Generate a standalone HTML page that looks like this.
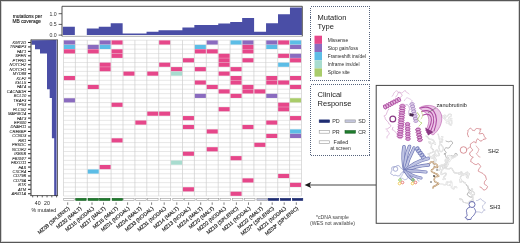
<!DOCTYPE html><html><head><meta charset="utf-8"><style>html,body{margin:0;padding:0;background:#fff;}svg{display:block;will-change:transform;}text{font-family:"Liberation Sans",sans-serif;}</style></head><body>
<svg width="520" height="243" viewBox="0 0 520 243" xmlns="http://www.w3.org/2000/svg">
<rect x="0" y="0" width="520" height="243" fill="#fff"/>
<path d="M62.9,35.1 L62.90,26.70 L74.85,26.70 L74.85,35.10 L86.80,35.10 L86.80,28.60 L98.75,28.60 L98.75,26.70 L110.70,26.70 L110.70,23.20 L122.65,23.20 L122.65,33.40 L134.60,33.40 L134.60,33.40 L146.55,33.40 L146.55,31.70 L158.50,31.70 L158.50,30.30 L170.45,30.30 L170.45,30.30 L182.40,30.30 L182.40,27.40 L194.35,27.40 L194.35,25.10 L206.30,25.10 L206.30,25.10 L218.25,25.10 L218.25,23.40 L230.20,23.40 L230.20,22.00 L242.15,22.00 L242.15,17.90 L254.10,17.90 L254.10,31.70 L266.05,31.70 L266.05,23.20 L278.00,23.20 L278.00,14.30 L289.95,14.30 L289.95,7.60 L301.90,7.60 L301.90,35.1 Z" fill="#4a4ea6"/>
<path d="M62,36.3 L62,6.3 L302.3,6.3 L302.3,36.3" fill="none" stroke="#333" stroke-width="0.85"/>
<line x1="62" y1="36.3" x2="302.3" y2="36.3" stroke="#8a8a8a" stroke-width="0.7"/>
<line x1="58.6" y1="13.7" x2="62" y2="13.7" stroke="#333" stroke-width="0.8"/>
<text x="56.6" y="15.50" font-size="5.2" text-anchor="end" fill="#333">1.0</text>
<line x1="58.6" y1="24.4" x2="62" y2="24.4" stroke="#333" stroke-width="0.8"/>
<text x="56.6" y="26.20" font-size="5.2" text-anchor="end" fill="#333">0.5</text>
<line x1="58.6" y1="35.1" x2="62" y2="35.1" stroke="#333" stroke-width="0.8"/>
<text x="56.6" y="36.90" font-size="5.2" text-anchor="end" fill="#333">0.0</text>
<text x="27.4" y="17.6" font-size="4.85" text-anchor="middle" fill="#222" stroke="#222" stroke-width="0.12">mutations per</text>
<text x="26.8" y="23.2" font-size="4.85" text-anchor="middle" fill="#222" stroke="#222" stroke-width="0.12">MB coverage</text>
<rect x="63.5" y="40.25" width="238.00" height="155.75" fill="#fff"/>
<line x1="63.5" y1="40.25" x2="301.50" y2="40.25" stroke="#dcdcdc" stroke-width="0.7"/>
<line x1="63.5" y1="44.70" x2="301.50" y2="44.70" stroke="#dcdcdc" stroke-width="0.7"/>
<line x1="63.5" y1="49.15" x2="301.50" y2="49.15" stroke="#dcdcdc" stroke-width="0.7"/>
<line x1="63.5" y1="53.60" x2="301.50" y2="53.60" stroke="#dcdcdc" stroke-width="0.7"/>
<line x1="63.5" y1="58.05" x2="301.50" y2="58.05" stroke="#dcdcdc" stroke-width="0.7"/>
<line x1="63.5" y1="62.50" x2="301.50" y2="62.50" stroke="#dcdcdc" stroke-width="0.7"/>
<line x1="63.5" y1="66.95" x2="301.50" y2="66.95" stroke="#dcdcdc" stroke-width="0.7"/>
<line x1="63.5" y1="71.40" x2="301.50" y2="71.40" stroke="#dcdcdc" stroke-width="0.7"/>
<line x1="63.5" y1="75.85" x2="301.50" y2="75.85" stroke="#dcdcdc" stroke-width="0.7"/>
<line x1="63.5" y1="80.30" x2="301.50" y2="80.30" stroke="#dcdcdc" stroke-width="0.7"/>
<line x1="63.5" y1="84.75" x2="301.50" y2="84.75" stroke="#dcdcdc" stroke-width="0.7"/>
<line x1="63.5" y1="89.20" x2="301.50" y2="89.20" stroke="#dcdcdc" stroke-width="0.7"/>
<line x1="63.5" y1="93.65" x2="301.50" y2="93.65" stroke="#dcdcdc" stroke-width="0.7"/>
<line x1="63.5" y1="98.10" x2="301.50" y2="98.10" stroke="#dcdcdc" stroke-width="0.7"/>
<line x1="63.5" y1="102.55" x2="301.50" y2="102.55" stroke="#dcdcdc" stroke-width="0.7"/>
<line x1="63.5" y1="107.00" x2="301.50" y2="107.00" stroke="#dcdcdc" stroke-width="0.7"/>
<line x1="63.5" y1="111.45" x2="301.50" y2="111.45" stroke="#dcdcdc" stroke-width="0.7"/>
<line x1="63.5" y1="115.90" x2="301.50" y2="115.90" stroke="#dcdcdc" stroke-width="0.7"/>
<line x1="63.5" y1="120.35" x2="301.50" y2="120.35" stroke="#dcdcdc" stroke-width="0.7"/>
<line x1="63.5" y1="124.80" x2="301.50" y2="124.80" stroke="#dcdcdc" stroke-width="0.7"/>
<line x1="63.5" y1="129.25" x2="301.50" y2="129.25" stroke="#dcdcdc" stroke-width="0.7"/>
<line x1="63.5" y1="133.70" x2="301.50" y2="133.70" stroke="#dcdcdc" stroke-width="0.7"/>
<line x1="63.5" y1="138.15" x2="301.50" y2="138.15" stroke="#dcdcdc" stroke-width="0.7"/>
<line x1="63.5" y1="142.60" x2="301.50" y2="142.60" stroke="#dcdcdc" stroke-width="0.7"/>
<line x1="63.5" y1="147.05" x2="301.50" y2="147.05" stroke="#dcdcdc" stroke-width="0.7"/>
<line x1="63.5" y1="151.50" x2="301.50" y2="151.50" stroke="#dcdcdc" stroke-width="0.7"/>
<line x1="63.5" y1="155.95" x2="301.50" y2="155.95" stroke="#dcdcdc" stroke-width="0.7"/>
<line x1="63.5" y1="160.40" x2="301.50" y2="160.40" stroke="#dcdcdc" stroke-width="0.7"/>
<line x1="63.5" y1="164.85" x2="301.50" y2="164.85" stroke="#dcdcdc" stroke-width="0.7"/>
<line x1="63.5" y1="169.30" x2="301.50" y2="169.30" stroke="#dcdcdc" stroke-width="0.7"/>
<line x1="63.5" y1="173.75" x2="301.50" y2="173.75" stroke="#dcdcdc" stroke-width="0.7"/>
<line x1="63.5" y1="178.20" x2="301.50" y2="178.20" stroke="#dcdcdc" stroke-width="0.7"/>
<line x1="63.5" y1="182.65" x2="301.50" y2="182.65" stroke="#dcdcdc" stroke-width="0.7"/>
<line x1="63.5" y1="187.10" x2="301.50" y2="187.10" stroke="#dcdcdc" stroke-width="0.7"/>
<line x1="63.5" y1="191.55" x2="301.50" y2="191.55" stroke="#dcdcdc" stroke-width="0.7"/>
<line x1="63.5" y1="196.00" x2="301.50" y2="196.00" stroke="#dcdcdc" stroke-width="0.7"/>
<line x1="63.50" y1="40.25" x2="63.50" y2="196.00" stroke="#cfcfcf" stroke-width="0.7"/>
<line x1="75.40" y1="40.25" x2="75.40" y2="196.00" stroke="#cfcfcf" stroke-width="0.7"/>
<line x1="87.30" y1="40.25" x2="87.30" y2="196.00" stroke="#cfcfcf" stroke-width="0.7"/>
<line x1="99.20" y1="40.25" x2="99.20" y2="196.00" stroke="#cfcfcf" stroke-width="0.7"/>
<line x1="111.10" y1="40.25" x2="111.10" y2="196.00" stroke="#cfcfcf" stroke-width="0.7"/>
<line x1="123.00" y1="40.25" x2="123.00" y2="196.00" stroke="#cfcfcf" stroke-width="0.7"/>
<line x1="134.90" y1="40.25" x2="134.90" y2="196.00" stroke="#cfcfcf" stroke-width="0.7"/>
<line x1="146.80" y1="40.25" x2="146.80" y2="196.00" stroke="#cfcfcf" stroke-width="0.7"/>
<line x1="158.70" y1="40.25" x2="158.70" y2="196.00" stroke="#cfcfcf" stroke-width="0.7"/>
<line x1="170.60" y1="40.25" x2="170.60" y2="196.00" stroke="#cfcfcf" stroke-width="0.7"/>
<line x1="182.50" y1="40.25" x2="182.50" y2="196.00" stroke="#cfcfcf" stroke-width="0.7"/>
<line x1="194.40" y1="40.25" x2="194.40" y2="196.00" stroke="#cfcfcf" stroke-width="0.7"/>
<line x1="206.30" y1="40.25" x2="206.30" y2="196.00" stroke="#cfcfcf" stroke-width="0.7"/>
<line x1="218.20" y1="40.25" x2="218.20" y2="196.00" stroke="#cfcfcf" stroke-width="0.7"/>
<line x1="230.10" y1="40.25" x2="230.10" y2="196.00" stroke="#cfcfcf" stroke-width="0.7"/>
<line x1="242.00" y1="40.25" x2="242.00" y2="196.00" stroke="#cfcfcf" stroke-width="0.7"/>
<line x1="253.90" y1="40.25" x2="253.90" y2="196.00" stroke="#cfcfcf" stroke-width="0.7"/>
<line x1="265.80" y1="40.25" x2="265.80" y2="196.00" stroke="#cfcfcf" stroke-width="0.7"/>
<line x1="277.70" y1="40.25" x2="277.70" y2="196.00" stroke="#cfcfcf" stroke-width="0.7"/>
<line x1="289.60" y1="40.25" x2="289.60" y2="196.00" stroke="#cfcfcf" stroke-width="0.7"/>
<line x1="301.50" y1="40.25" x2="301.50" y2="196.00" stroke="#cfcfcf" stroke-width="0.7"/>
<rect x="63.95" y="40.40" width="11.00" height="4.15" fill="#8a6bbf"/>
<rect x="99.65" y="40.40" width="11.00" height="4.15" fill="#8a6bbf"/>
<rect x="111.55" y="40.40" width="11.00" height="4.15" fill="#e6478a"/>
<rect x="159.15" y="40.40" width="11.00" height="4.15" fill="#e6478a"/>
<rect x="206.75" y="40.40" width="11.00" height="4.15" fill="#8a6bbf"/>
<rect x="230.55" y="40.40" width="11.00" height="4.15" fill="#5cbde6"/>
<rect x="242.45" y="40.40" width="11.00" height="4.15" fill="#8a6bbf"/>
<rect x="266.25" y="40.40" width="11.00" height="4.15" fill="#8a6bbf"/>
<rect x="278.15" y="40.40" width="11.00" height="4.15" fill="#e6478a"/>
<rect x="290.05" y="40.40" width="11.00" height="4.15" fill="#5cbde6"/>
<rect x="63.95" y="44.85" width="11.00" height="4.15" fill="#5cbde6"/>
<rect x="87.75" y="44.85" width="11.00" height="4.15" fill="#8a6bbf"/>
<rect x="99.65" y="44.85" width="11.00" height="4.15" fill="#5cbde6"/>
<rect x="194.85" y="44.85" width="11.00" height="4.15" fill="#5cbde6"/>
<rect x="242.45" y="44.85" width="11.00" height="4.15" fill="#e6478a"/>
<rect x="266.25" y="44.85" width="11.00" height="4.15" fill="#5cbde6"/>
<rect x="290.05" y="44.85" width="11.00" height="4.15" fill="#8a6bbf"/>
<rect x="63.95" y="49.30" width="11.00" height="4.15" fill="#e6478a"/>
<rect x="87.75" y="49.30" width="11.00" height="4.15" fill="#e6478a"/>
<rect x="111.55" y="49.30" width="11.00" height="4.15" fill="#e6478a"/>
<rect x="194.85" y="49.30" width="11.00" height="4.15" fill="#e6478a"/>
<rect x="206.75" y="49.30" width="11.00" height="4.15" fill="#e6478a"/>
<rect x="242.45" y="49.30" width="11.00" height="4.15" fill="#e6478a"/>
<rect x="111.55" y="53.75" width="11.00" height="4.15" fill="#e6478a"/>
<rect x="218.65" y="53.75" width="11.00" height="4.15" fill="#e6478a"/>
<rect x="278.15" y="53.75" width="11.00" height="4.15" fill="#e6478a"/>
<rect x="290.05" y="53.75" width="11.00" height="4.15" fill="#8a6bbf"/>
<rect x="182.95" y="58.20" width="11.00" height="4.15" fill="#e6478a"/>
<rect x="218.65" y="58.20" width="11.00" height="4.15" fill="#e6478a"/>
<rect x="242.45" y="58.20" width="11.00" height="4.15" fill="#e6478a"/>
<rect x="290.05" y="58.20" width="11.00" height="4.15" fill="#e6478a"/>
<rect x="99.65" y="62.65" width="11.00" height="4.15" fill="#e6478a"/>
<rect x="159.15" y="62.65" width="11.00" height="4.15" fill="#e6478a"/>
<rect x="218.65" y="62.65" width="11.00" height="4.15" fill="#e6478a"/>
<rect x="278.15" y="62.65" width="11.00" height="4.15" fill="#5cbde6"/>
<rect x="99.65" y="67.10" width="11.00" height="4.15" fill="#e6478a"/>
<rect x="171.05" y="67.10" width="11.00" height="4.15" fill="#e6478a"/>
<rect x="194.85" y="67.10" width="11.00" height="4.15" fill="#e6478a"/>
<rect x="230.55" y="67.10" width="11.00" height="4.15" fill="#e6478a"/>
<rect x="123.45" y="71.55" width="11.00" height="4.15" fill="#e6478a"/>
<rect x="147.25" y="71.55" width="11.00" height="4.15" fill="#e6478a"/>
<rect x="171.05" y="71.55" width="11.00" height="4.15" fill="#a8dccf"/>
<rect x="218.65" y="71.55" width="11.00" height="4.15" fill="#e6478a"/>
<rect x="63.95" y="76.00" width="11.00" height="4.15" fill="#e6478a"/>
<rect x="230.55" y="76.00" width="11.00" height="4.15" fill="#e6478a"/>
<rect x="266.25" y="76.00" width="11.00" height="4.15" fill="#e6478a"/>
<rect x="290.05" y="76.00" width="11.00" height="4.15" fill="#e6478a"/>
<rect x="194.85" y="80.45" width="11.00" height="4.15" fill="#e6478a"/>
<rect x="230.55" y="80.45" width="11.00" height="4.15" fill="#e6478a"/>
<rect x="266.25" y="80.45" width="11.00" height="4.15" fill="#e6478a"/>
<rect x="278.15" y="80.45" width="11.00" height="4.15" fill="#e6478a"/>
<rect x="87.75" y="84.90" width="11.00" height="4.15" fill="#e6478a"/>
<rect x="206.75" y="84.90" width="11.00" height="4.15" fill="#e6478a"/>
<rect x="242.45" y="84.90" width="11.00" height="4.15" fill="#e6478a"/>
<rect x="290.05" y="84.90" width="11.00" height="4.15" fill="#e6478a"/>
<rect x="218.65" y="89.35" width="11.00" height="4.15" fill="#e6478a"/>
<rect x="242.45" y="89.35" width="11.00" height="4.15" fill="#e6478a"/>
<rect x="254.35" y="89.35" width="11.00" height="4.15" fill="#e6478a"/>
<rect x="194.85" y="93.80" width="11.00" height="4.15" fill="#8a6bbf"/>
<rect x="230.55" y="93.80" width="11.00" height="4.15" fill="#e6478a"/>
<rect x="266.25" y="93.80" width="11.00" height="4.15" fill="#8a6bbf"/>
<rect x="63.95" y="98.25" width="11.00" height="4.15" fill="#8a6bbf"/>
<rect x="290.05" y="98.25" width="11.00" height="4.15" fill="#a9cc6a"/>
<rect x="111.55" y="102.70" width="11.00" height="4.15" fill="#e6478a"/>
<rect x="278.15" y="102.70" width="11.00" height="4.15" fill="#e6478a"/>
<rect x="218.65" y="107.15" width="11.00" height="4.15" fill="#e6478a"/>
<rect x="278.15" y="107.15" width="11.00" height="4.15" fill="#e6478a"/>
<rect x="147.25" y="111.60" width="11.00" height="4.15" fill="#e6478a"/>
<rect x="159.15" y="111.60" width="11.00" height="4.15" fill="#e6478a"/>
<rect x="182.95" y="116.05" width="11.00" height="4.15" fill="#e6478a"/>
<rect x="290.05" y="116.05" width="11.00" height="4.15" fill="#e6478a"/>
<rect x="135.35" y="120.50" width="11.00" height="4.15" fill="#e6478a"/>
<rect x="266.25" y="120.50" width="11.00" height="4.15" fill="#e6478a"/>
<rect x="182.95" y="124.95" width="11.00" height="4.15" fill="#e6478a"/>
<rect x="242.45" y="124.95" width="11.00" height="4.15" fill="#e6478a"/>
<rect x="206.75" y="129.40" width="11.00" height="4.15" fill="#e6478a"/>
<rect x="290.05" y="129.40" width="11.00" height="4.15" fill="#5cbde6"/>
<rect x="266.25" y="133.85" width="11.00" height="4.15" fill="#e6478a"/>
<rect x="290.05" y="133.85" width="11.00" height="4.15" fill="#8a6bbf"/>
<rect x="111.55" y="138.30" width="11.00" height="4.15" fill="#e6478a"/>
<rect x="254.35" y="142.75" width="11.00" height="4.15" fill="#e6478a"/>
<rect x="206.75" y="147.20" width="11.00" height="4.15" fill="#e6478a"/>
<rect x="182.95" y="151.65" width="11.00" height="4.15" fill="#e6478a"/>
<rect x="230.55" y="156.10" width="11.00" height="4.15" fill="#e6478a"/>
<rect x="171.05" y="160.55" width="11.00" height="4.15" fill="#a8dccf"/>
<rect x="99.65" y="165.00" width="11.00" height="4.15" fill="#e6478a"/>
<rect x="87.75" y="169.45" width="11.00" height="4.15" fill="#5cbde6"/>
<rect x="278.15" y="173.90" width="11.00" height="4.15" fill="#e6478a"/>
<rect x="242.45" y="178.35" width="11.00" height="4.15" fill="#e6478a"/>
<rect x="290.05" y="182.80" width="11.00" height="4.15" fill="#e6478a"/>
<rect x="182.95" y="187.25" width="11.00" height="4.15" fill="#e6478a"/>
<rect x="230.55" y="191.70" width="11.00" height="4.15" fill="#e6478a"/>
<rect x="63.70" y="198.3" width="10.5" height="2.2" fill="#fff" stroke="#999" stroke-width="0.6"/>
<rect x="75.70" y="198.3" width="10.5" height="2.2" fill="#1f7d2e" stroke="#145c20" stroke-width="0.6"/>
<rect x="88.00" y="198.3" width="10.5" height="2.2" fill="#1f7d2e" stroke="#145c20" stroke-width="0.6"/>
<rect x="99.50" y="198.3" width="10.5" height="2.2" fill="#1f7d2e" stroke="#145c20" stroke-width="0.6"/>
<rect x="112.10" y="198.3" width="10.5" height="2.2" fill="#1f7d2e" stroke="#145c20" stroke-width="0.6"/>
<rect x="123.60" y="198.3" width="10.5" height="2.2" fill="#fff" stroke="#999" stroke-width="0.6"/>
<rect x="135.70" y="198.3" width="10.5" height="2.2" fill="#fff" stroke="#999" stroke-width="0.6"/>
<rect x="147.60" y="198.3" width="10.5" height="2.2" fill="#fff" stroke="#999" stroke-width="0.6"/>
<rect x="160.20" y="198.3" width="10.5" height="2.2" fill="#fff" stroke="#999" stroke-width="0.6"/>
<rect x="172.80" y="198.3" width="10.5" height="2.2" fill="#fff" stroke="#999" stroke-width="0.6"/>
<rect x="184.60" y="198.3" width="10.5" height="2.2" fill="#fff" stroke="#999" stroke-width="0.6"/>
<rect x="196.70" y="198.3" width="10.5" height="2.2" fill="#fff" stroke="#999" stroke-width="0.6"/>
<rect x="208.20" y="198.3" width="10.5" height="2.2" fill="#fff" stroke="#999" stroke-width="0.6"/>
<rect x="220.00" y="198.3" width="10.5" height="2.2" fill="#fff" stroke="#999" stroke-width="0.6"/>
<rect x="232.40" y="198.3" width="10.5" height="2.2" fill="#fff" stroke="#999" stroke-width="0.6"/>
<rect x="244.50" y="198.3" width="10.5" height="2.2" fill="#fff" stroke="#999" stroke-width="0.6"/>
<rect x="256.90" y="198.3" width="10.5" height="2.2" fill="#c3c6de" stroke="#999" stroke-width="0.6"/>
<rect x="268.20" y="198.3" width="10.5" height="2.2" fill="#1f2d72" stroke="#1f2d72" stroke-width="0.6"/>
<rect x="280.20" y="198.3" width="10.5" height="2.2" fill="#1f2d72" stroke="#1f2d72" stroke-width="0.6"/>
<rect x="292.30" y="198.3" width="10.5" height="2.2" fill="#1f2d72" stroke="#1f2d72" stroke-width="0.6"/>
<line x1="67.70" y1="202.4" x2="67.70" y2="204.8" stroke="#444" stroke-width="0.7"/>
<text transform="translate(69.90,209.0) rotate(-40)" font-size="5.1" text-anchor="end" fill="#2a2a2a" stroke="#2a2a2a" stroke-width="0.18">MZ08 (SPLENIC)</text>
<line x1="79.70" y1="202.4" x2="79.70" y2="204.8" stroke="#444" stroke-width="0.7"/>
<text transform="translate(81.90,209.0) rotate(-40)" font-size="5.1" text-anchor="end" fill="#2a2a2a" stroke="#2a2a2a" stroke-width="0.18">MZ32 (MALT)</text>
<line x1="92.00" y1="202.4" x2="92.00" y2="204.8" stroke="#444" stroke-width="0.7"/>
<text transform="translate(94.20,209.0) rotate(-40)" font-size="5.1" text-anchor="end" fill="#2a2a2a" stroke="#2a2a2a" stroke-width="0.18">MZ16 (NODAL)</text>
<line x1="103.50" y1="202.4" x2="103.50" y2="204.8" stroke="#444" stroke-width="0.7"/>
<text transform="translate(105.70,209.0) rotate(-40)" font-size="5.1" text-anchor="end" fill="#2a2a2a" stroke="#2a2a2a" stroke-width="0.18">MZ17 (MALT)</text>
<line x1="116.10" y1="202.4" x2="116.10" y2="204.8" stroke="#444" stroke-width="0.7"/>
<text transform="translate(118.30,209.0) rotate(-40)" font-size="5.1" text-anchor="end" fill="#2a2a2a" stroke="#2a2a2a" stroke-width="0.18">MZ15 (MALT)</text>
<line x1="127.60" y1="202.4" x2="127.60" y2="204.8" stroke="#444" stroke-width="0.7"/>
<text transform="translate(129.80,209.0) rotate(-40)" font-size="5.1" text-anchor="end" fill="#2a2a2a" stroke="#2a2a2a" stroke-width="0.18">MZ01 (NODAL)</text>
<line x1="139.70" y1="202.4" x2="139.70" y2="204.8" stroke="#444" stroke-width="0.7"/>
<text transform="translate(141.90,209.0) rotate(-40)" font-size="5.1" text-anchor="end" fill="#2a2a2a" stroke="#2a2a2a" stroke-width="0.18">MZ04 (MALT)</text>
<line x1="151.60" y1="202.4" x2="151.60" y2="204.8" stroke="#444" stroke-width="0.7"/>
<text transform="translate(153.80,209.0) rotate(-40)" font-size="5.1" text-anchor="end" fill="#2a2a2a" stroke="#2a2a2a" stroke-width="0.18">MZ33 (NODAL)</text>
<line x1="164.20" y1="202.4" x2="164.20" y2="204.8" stroke="#444" stroke-width="0.7"/>
<text transform="translate(166.40,209.0) rotate(-40)" font-size="5.1" text-anchor="end" fill="#2a2a2a" stroke="#2a2a2a" stroke-width="0.18">MZ31 (NODAL)</text>
<line x1="176.80" y1="202.4" x2="176.80" y2="204.8" stroke="#444" stroke-width="0.7"/>
<text transform="translate(179.00,209.0) rotate(-40)" font-size="5.1" text-anchor="end" fill="#2a2a2a" stroke="#2a2a2a" stroke-width="0.18">MZ14 (MALT)</text>
<line x1="188.60" y1="202.4" x2="188.60" y2="204.8" stroke="#444" stroke-width="0.7"/>
<text transform="translate(190.80,209.0) rotate(-40)" font-size="5.1" text-anchor="end" fill="#2a2a2a" stroke="#2a2a2a" stroke-width="0.18">MZ13 (NODAL)</text>
<line x1="200.70" y1="202.4" x2="200.70" y2="204.8" stroke="#444" stroke-width="0.7"/>
<text transform="translate(202.90,209.0) rotate(-40)" font-size="5.1" text-anchor="end" fill="#2a2a2a" stroke="#2a2a2a" stroke-width="0.18">MZ24 (MALT)</text>
<line x1="212.20" y1="202.4" x2="212.20" y2="204.8" stroke="#444" stroke-width="0.7"/>
<text transform="translate(214.40,209.0) rotate(-40)" font-size="5.1" text-anchor="end" fill="#2a2a2a" stroke="#2a2a2a" stroke-width="0.18">MZ20 (MALT)</text>
<line x1="224.00" y1="202.4" x2="224.00" y2="204.8" stroke="#444" stroke-width="0.7"/>
<text transform="translate(226.20,209.0) rotate(-40)" font-size="5.1" text-anchor="end" fill="#2a2a2a" stroke="#2a2a2a" stroke-width="0.18">MZ02 (NODAL)</text>
<line x1="236.40" y1="202.4" x2="236.40" y2="204.8" stroke="#444" stroke-width="0.7"/>
<text transform="translate(238.60,209.0) rotate(-40)" font-size="5.1" text-anchor="end" fill="#2a2a2a" stroke="#2a2a2a" stroke-width="0.18">MZ19 (SPLENIC)</text>
<line x1="248.50" y1="202.4" x2="248.50" y2="204.8" stroke="#444" stroke-width="0.7"/>
<text transform="translate(250.70,209.0) rotate(-40)" font-size="5.1" text-anchor="end" fill="#2a2a2a" stroke="#2a2a2a" stroke-width="0.18">MZ11 (NODAL)</text>
<line x1="260.90" y1="202.4" x2="260.90" y2="204.8" stroke="#444" stroke-width="0.7"/>
<text transform="translate(263.10,209.0) rotate(-40)" font-size="5.1" text-anchor="end" fill="#2a2a2a" stroke="#2a2a2a" stroke-width="0.18">MZ22 (MALT)</text>
<line x1="272.20" y1="202.4" x2="272.20" y2="204.8" stroke="#444" stroke-width="0.7"/>
<text transform="translate(274.40,209.0) rotate(-40)" font-size="5.1" text-anchor="end" fill="#2a2a2a" stroke="#2a2a2a" stroke-width="0.18">MZ07* (SPLENIC)</text>
<line x1="284.20" y1="202.4" x2="284.20" y2="204.8" stroke="#444" stroke-width="0.7"/>
<text transform="translate(286.40,209.0) rotate(-40)" font-size="5.1" text-anchor="end" fill="#2a2a2a" stroke="#2a2a2a" stroke-width="0.18">MZ21 (NODAL)</text>
<line x1="296.30" y1="202.4" x2="296.30" y2="204.8" stroke="#444" stroke-width="0.7"/>
<text transform="translate(298.50,209.0) rotate(-40)" font-size="5.1" text-anchor="end" fill="#2a2a2a" stroke="#2a2a2a" stroke-width="0.18">MZ03* (SPLENIC)</text>
<path d="M56.6,40 L31.50,40.25 L31.50,44.70 L35.00,44.70 L35.00,49.15 L40.00,49.15 L40.00,53.60 L47.00,53.60 L47.00,58.05 L47.00,58.05 L47.00,62.50 L47.00,62.50 L47.00,66.95 L47.00,66.95 L47.00,71.40 L47.00,71.40 L47.00,75.85 L47.00,75.85 L47.00,80.30 L47.00,80.30 L47.00,84.75 L47.00,84.75 L47.00,89.20 L49.70,89.20 L49.70,93.65 L49.70,93.65 L49.70,98.10 L51.90,98.10 L51.90,102.55 L51.90,102.55 L51.90,107.00 L51.90,107.00 L51.90,111.45 L51.90,111.45 L51.90,115.90 L51.90,115.90 L51.90,120.35 L51.90,120.35 L51.90,124.80 L51.90,124.80 L51.90,129.25 L51.90,129.25 L51.90,133.70 L51.90,133.70 L51.90,138.15 L54.20,138.15 L54.20,142.60 L54.20,142.60 L54.20,147.05 L54.20,147.05 L54.20,151.50 L54.20,151.50 L54.20,155.95 L54.20,155.95 L54.20,160.40 L54.20,160.40 L54.20,164.85 L54.20,164.85 L54.20,169.30 L54.20,169.30 L54.20,173.75 L54.20,173.75 L54.20,178.20 L54.20,178.20 L54.20,182.65 L54.20,182.65 L54.20,187.10 L54.20,187.10 L54.20,191.55 L54.20,191.55 L54.20,196.00 L56.6,196.00 Z" fill="#4a4ea6"/>
<line x1="31.0" y1="39.6" x2="31.0" y2="195.6" stroke="#222" stroke-width="0.9"/>
<line x1="57.5" y1="39.6" x2="57.5" y2="195.6" stroke="#555" stroke-width="0.9"/>
<line x1="31.0" y1="39.7" x2="57.5" y2="39.7" stroke="#333" stroke-width="0.6"/>
<line x1="30.2" y1="195.6" x2="58.1" y2="195.6" stroke="#333" stroke-width="0.8"/>
<line x1="32.70" y1="195.6" x2="32.70" y2="197.4" stroke="#333" stroke-width="0.8"/>
<line x1="37.48" y1="195.6" x2="37.48" y2="197.4" stroke="#333" stroke-width="0.8"/>
<line x1="42.26" y1="195.6" x2="42.26" y2="197.4" stroke="#333" stroke-width="0.8"/>
<line x1="47.04" y1="195.6" x2="47.04" y2="197.4" stroke="#333" stroke-width="0.8"/>
<line x1="51.82" y1="195.6" x2="51.82" y2="197.4" stroke="#333" stroke-width="0.8"/>
<line x1="56.60" y1="195.6" x2="56.60" y2="197.4" stroke="#333" stroke-width="0.8"/>
<text x="37.7" y="205.2" font-size="5.2" text-anchor="middle" fill="#222">40</text>
<text x="47.0" y="205.2" font-size="5.2" text-anchor="middle" fill="#222">20</text>
<text x="43.9" y="211.6" font-size="5.15" text-anchor="middle" fill="#1a1a1a">% mutated</text>
<line x1="28.0" y1="42.48" x2="30.8" y2="42.48" stroke="#222" stroke-width="1.0"/>
<text x="26.2" y="43.93" font-size="4.05" font-style="italic" text-anchor="end" fill="#222" stroke="#222" stroke-width="0.05">KMT2D</text>
<line x1="28.0" y1="46.92" x2="30.8" y2="46.92" stroke="#222" stroke-width="1.0"/>
<text x="26.2" y="48.38" font-size="4.05" font-style="italic" text-anchor="end" fill="#222" stroke="#222" stroke-width="0.05">TNFAIP3</text>
<line x1="28.0" y1="51.38" x2="30.8" y2="51.38" stroke="#222" stroke-width="1.0"/>
<text x="26.2" y="52.83" font-size="4.05" font-style="italic" text-anchor="end" fill="#222" stroke="#222" stroke-width="0.05">FAT1</text>
<line x1="28.0" y1="55.83" x2="30.8" y2="55.83" stroke="#222" stroke-width="1.0"/>
<text x="26.2" y="57.28" font-size="4.05" font-style="italic" text-anchor="end" fill="#222" stroke="#222" stroke-width="0.05">SPEN</text>
<line x1="28.0" y1="60.28" x2="30.8" y2="60.28" stroke="#222" stroke-width="1.0"/>
<text x="26.2" y="61.73" font-size="4.05" font-style="italic" text-anchor="end" fill="#222" stroke="#222" stroke-width="0.05">PTPRD</text>
<line x1="28.0" y1="64.72" x2="30.8" y2="64.72" stroke="#222" stroke-width="1.0"/>
<text x="26.2" y="66.17" font-size="4.05" font-style="italic" text-anchor="end" fill="#222" stroke="#222" stroke-width="0.05">NOTCH2</text>
<line x1="28.0" y1="69.17" x2="30.8" y2="69.17" stroke="#222" stroke-width="1.0"/>
<text x="26.2" y="70.62" font-size="4.05" font-style="italic" text-anchor="end" fill="#222" stroke="#222" stroke-width="0.05">NOTCH1</text>
<line x1="28.0" y1="73.62" x2="30.8" y2="73.62" stroke="#222" stroke-width="1.0"/>
<text x="26.2" y="75.08" font-size="4.05" font-style="italic" text-anchor="end" fill="#222" stroke="#222" stroke-width="0.05">MYD88</text>
<line x1="28.0" y1="78.08" x2="30.8" y2="78.08" stroke="#222" stroke-width="1.0"/>
<text x="26.2" y="79.53" font-size="4.05" font-style="italic" text-anchor="end" fill="#222" stroke="#222" stroke-width="0.05">KLF2</text>
<line x1="28.0" y1="82.53" x2="30.8" y2="82.53" stroke="#222" stroke-width="1.0"/>
<text x="26.2" y="83.98" font-size="4.05" font-style="italic" text-anchor="end" fill="#222" stroke="#222" stroke-width="0.05">IGLL5</text>
<line x1="28.0" y1="86.97" x2="30.8" y2="86.97" stroke="#222" stroke-width="1.0"/>
<text x="26.2" y="88.42" font-size="4.05" font-style="italic" text-anchor="end" fill="#222" stroke="#222" stroke-width="0.05">FAT4</text>
<line x1="28.0" y1="91.43" x2="30.8" y2="91.43" stroke="#222" stroke-width="1.0"/>
<text x="26.2" y="92.88" font-size="4.05" font-style="italic" text-anchor="end" fill="#222" stroke="#222" stroke-width="0.05">CACNA1H</text>
<line x1="28.0" y1="95.88" x2="30.8" y2="95.88" stroke="#222" stroke-width="1.0"/>
<text x="26.2" y="97.33" font-size="4.05" font-style="italic" text-anchor="end" fill="#222" stroke="#222" stroke-width="0.05">BCL10</text>
<line x1="28.0" y1="100.33" x2="30.8" y2="100.33" stroke="#222" stroke-width="1.0"/>
<text x="26.2" y="101.78" font-size="4.05" font-style="italic" text-anchor="end" fill="#222" stroke="#222" stroke-width="0.05">TRAF3</text>
<line x1="28.0" y1="104.78" x2="30.8" y2="104.78" stroke="#222" stroke-width="1.0"/>
<text x="26.2" y="106.23" font-size="4.05" font-style="italic" text-anchor="end" fill="#222" stroke="#222" stroke-width="0.05">TP53</text>
<line x1="28.0" y1="109.23" x2="30.8" y2="109.23" stroke="#222" stroke-width="1.0"/>
<text x="26.2" y="110.68" font-size="4.05" font-style="italic" text-anchor="end" fill="#222" stroke="#222" stroke-width="0.05">PLCG2</text>
<line x1="28.0" y1="113.67" x2="30.8" y2="113.67" stroke="#222" stroke-width="1.0"/>
<text x="26.2" y="115.12" font-size="4.05" font-style="italic" text-anchor="end" fill="#222" stroke="#222" stroke-width="0.05">MAP3K14</text>
<line x1="28.0" y1="118.12" x2="30.8" y2="118.12" stroke="#222" stroke-width="1.0"/>
<text x="26.2" y="119.58" font-size="4.05" font-style="italic" text-anchor="end" fill="#222" stroke="#222" stroke-width="0.05">FAT3</text>
<line x1="28.0" y1="122.58" x2="30.8" y2="122.58" stroke="#222" stroke-width="1.0"/>
<text x="26.2" y="124.03" font-size="4.05" font-style="italic" text-anchor="end" fill="#222" stroke="#222" stroke-width="0.05">EP300</text>
<line x1="28.0" y1="127.03" x2="30.8" y2="127.03" stroke="#222" stroke-width="1.0"/>
<text x="26.2" y="128.47" font-size="4.05" font-style="italic" text-anchor="end" fill="#222" stroke="#222" stroke-width="0.05">DNAH11</text>
<line x1="28.0" y1="131.48" x2="30.8" y2="131.48" stroke="#222" stroke-width="1.0"/>
<text x="26.2" y="132.93" font-size="4.05" font-style="italic" text-anchor="end" fill="#222" stroke="#222" stroke-width="0.05">CREBBP</text>
<line x1="28.0" y1="135.93" x2="30.8" y2="135.93" stroke="#222" stroke-width="1.0"/>
<text x="26.2" y="137.38" font-size="4.05" font-style="italic" text-anchor="end" fill="#222" stroke="#222" stroke-width="0.05">CCND3</text>
<line x1="28.0" y1="140.38" x2="30.8" y2="140.38" stroke="#222" stroke-width="1.0"/>
<text x="26.2" y="141.82" font-size="4.05" font-style="italic" text-anchor="end" fill="#222" stroke="#222" stroke-width="0.05">RB1</text>
<line x1="28.0" y1="144.82" x2="30.8" y2="144.82" stroke="#222" stroke-width="1.0"/>
<text x="26.2" y="146.27" font-size="4.05" font-style="italic" text-anchor="end" fill="#222" stroke="#222" stroke-width="0.05">PRKDC</text>
<line x1="28.0" y1="149.28" x2="30.8" y2="149.28" stroke="#222" stroke-width="1.0"/>
<text x="26.2" y="150.72" font-size="4.05" font-style="italic" text-anchor="end" fill="#222" stroke="#222" stroke-width="0.05">NCOR2</text>
<line x1="28.0" y1="153.73" x2="30.8" y2="153.73" stroke="#222" stroke-width="1.0"/>
<text x="26.2" y="155.18" font-size="4.05" font-style="italic" text-anchor="end" fill="#222" stroke="#222" stroke-width="0.05">IKBKB</text>
<line x1="28.0" y1="158.18" x2="30.8" y2="158.18" stroke="#222" stroke-width="1.0"/>
<text x="26.2" y="159.62" font-size="4.05" font-style="italic" text-anchor="end" fill="#222" stroke="#222" stroke-width="0.05">FBXW7</text>
<line x1="28.0" y1="162.62" x2="30.8" y2="162.62" stroke="#222" stroke-width="1.0"/>
<text x="26.2" y="164.07" font-size="4.05" font-style="italic" text-anchor="end" fill="#222" stroke="#222" stroke-width="0.05">FBXO11</text>
<line x1="28.0" y1="167.07" x2="30.8" y2="167.07" stroke="#222" stroke-width="1.0"/>
<text x="26.2" y="168.52" font-size="4.05" font-style="italic" text-anchor="end" fill="#222" stroke="#222" stroke-width="0.05">FAS</text>
<line x1="28.0" y1="171.53" x2="30.8" y2="171.53" stroke="#222" stroke-width="1.0"/>
<text x="26.2" y="172.97" font-size="4.05" font-style="italic" text-anchor="end" fill="#222" stroke="#222" stroke-width="0.05">CXCR4</text>
<line x1="28.0" y1="175.97" x2="30.8" y2="175.97" stroke="#222" stroke-width="1.0"/>
<text x="26.2" y="177.42" font-size="4.05" font-style="italic" text-anchor="end" fill="#222" stroke="#222" stroke-width="0.05">CD79B</text>
<line x1="28.0" y1="180.43" x2="30.8" y2="180.43" stroke="#222" stroke-width="1.0"/>
<text x="26.2" y="181.88" font-size="4.05" font-style="italic" text-anchor="end" fill="#222" stroke="#222" stroke-width="0.05">CD79A</text>
<line x1="28.0" y1="184.88" x2="30.8" y2="184.88" stroke="#222" stroke-width="1.0"/>
<text x="26.2" y="186.32" font-size="4.05" font-style="italic" text-anchor="end" fill="#222" stroke="#222" stroke-width="0.05">BTK</text>
<line x1="28.0" y1="189.33" x2="30.8" y2="189.33" stroke="#222" stroke-width="1.0"/>
<text x="26.2" y="190.78" font-size="4.05" font-style="italic" text-anchor="end" fill="#222" stroke="#222" stroke-width="0.05">ATM</text>
<line x1="28.0" y1="193.78" x2="30.8" y2="193.78" stroke="#222" stroke-width="1.0"/>
<text x="26.2" y="195.22" font-size="4.05" font-style="italic" text-anchor="end" fill="#222" stroke="#222" stroke-width="0.05">ARID1A</text>
<rect x="310.5" y="6.5" width="59" height="74" fill="none" stroke="#56637c" stroke-width="1" stroke-dasharray="1,1" shape-rendering="crispEdges"/>
<text x="317.6" y="19.8" font-size="7.5" fill="#222">Mutation</text>
<text x="317.6" y="28.8" font-size="7.5" fill="#222">Type</text>
<rect x="314.5" y="35.70" width="7.5" height="8.2" fill="#e6478a"/>
<text x="327.7" y="41.50" font-size="4.85" fill="#2a2a2a">Missense</text>
<rect x="314.5" y="43.88" width="7.5" height="8.2" fill="#8a6bbf"/>
<text x="327.7" y="49.68" font-size="4.85" fill="#2a2a2a">Stop gain/loss</text>
<rect x="314.5" y="52.06" width="7.5" height="8.2" fill="#5cbde6"/>
<text x="327.7" y="57.86" font-size="4.85" fill="#2a2a2a">Frameshift ins/del</text>
<rect x="314.5" y="60.24" width="7.5" height="8.2" fill="#a8dccf"/>
<text x="327.7" y="66.04" font-size="4.85" fill="#2a2a2a">Inframe ins/del</text>
<rect x="314.5" y="68.42" width="7.5" height="8.2" fill="#a9cc6a"/>
<text x="327.7" y="74.22" font-size="4.85" fill="#2a2a2a">Splice site</text>
<rect x="310.5" y="84.5" width="59" height="71" fill="none" stroke="#56637c" stroke-width="1" stroke-dasharray="1,1" shape-rendering="crispEdges"/>
<text x="317.6" y="97.4" font-size="7.5" fill="#222">Clinical</text>
<text x="317.6" y="106.4" font-size="7.5" fill="#222">Response</text>
<rect x="319.2" y="119.9" width="10.4" height="2.6" fill="#1f2d72" stroke="#1f2d72" stroke-width="0.6"/>
<text x="332.2" y="123.3" font-size="5.4" fill="#333">PD</text>
<rect x="345.0" y="119.9" width="10.4" height="2.6" fill="#c3c6de" stroke="#999" stroke-width="0.6"/>
<text x="358.2" y="123.3" font-size="5.4" fill="#333">SD</text>
<rect x="319.2" y="130.6" width="10.4" height="2.6" fill="#fff" stroke="#999" stroke-width="0.6"/>
<text x="332.2" y="134.0" font-size="5.4" fill="#333">PR</text>
<rect x="345.0" y="130.6" width="10.4" height="2.6" fill="#1f7d2e" stroke="#145c20" stroke-width="0.6"/>
<text x="358.2" y="134.0" font-size="5.4" fill="#333">CR</text>
<rect x="319.2" y="140.8" width="10.4" height="2.6" fill="#fff" stroke="#999" stroke-width="0.6"/>
<text x="333.6" y="144.2" font-size="5.4" fill="#333">Failed</text>
<text x="330.2" y="150.3" font-size="5.0" fill="#333">at screen</text>
<text x="332.5" y="219.0" font-size="5.1" text-anchor="middle" fill="#444">*cDNA sample</text>
<text x="332.5" y="225.4" font-size="5.1" text-anchor="middle" fill="#444">(WES not available)</text>
<rect x="376.2" y="85.4" width="137.1" height="137.9" fill="#fff" stroke="#444" stroke-width="1"/>
<line x1="307" y1="185" x2="376" y2="185" stroke="#3a3a3a" stroke-width="0.95"/>
<path d="M304.6,185 L311.2,182.0 L309.6,185 L311.2,188.0 Z" fill="#1a1a1a"/>
<path d="M426.0,136.0 L426.8,136.4 L427.5,137.0 L428.1,137.6 L428.6,138.4 L429.3,138.9 L430.1,139.2 L431.0,139.5 L431.8,139.5 L432.7,139.6 L433.2,140.4 L433.9,141.0 L434.2,141.8 L434.4,142.7 L434.8,143.4 L435.5,143.4 L435.0,142.9 L434.7,143.7 L435.3,144.3 L435.4,143.5 L434.5,143.2 L433.7,143.1 L432.4,143.3 L431.6,143.7 L430.7,143.7 L429.9,143.3 L429.2,142.8 L428.8,142.0 L429.7,141.8 L430.4,142.3 L430.9,143.1 L431.4,143.8 L431.5,144.7 L431.5,145.6 L431.2,146.5 L430.9,147.3 L431.3,148.0 L432.1,148.4 L432.5,149.2 L433.2,149.8 L433.5,150.6 L433.2,151.4 L432.6,152.1 L431.8,152.5 L431.0,152.8 L430.2,153.2 L429.6,153.9 L428.8,154.3 L428.0,154.0 L428.7,153.7 L429.3,154.4 L429.4,155.3 L429.7,156.1 L430.2,156.9 L431.0,157.2 L431.9,157.3 L432.8,157.3 L433.1,156.5 L433.0,155.6 L433.5,155.0 L434.3,155.3 L434.6,156.1 L435.1,156.8 L435.9,156.6 L436.1,155.7 L435.7,154.9 L434.9,154.6 L435.3,155.2 L435.7,154.4 L435.4,153.6 L434.7,153.0 L434.8,153.7 L435.3,153.2 L435.4,152.3 L434.8,151.7 L434.3,152.3 L435.1,152.5 L435.5,151.8 L435.8,151.0 L436.3,150.2 L437.1,150.1 L437.8,150.7 L438.1,151.5 L438.3,152.4 L438.6,153.3 L439.2,153.9 L439.2,154.8 L438.7,155.6 L437.8,155.7 L436.9,155.4 L436.1,155.8 L435.7,156.6 L434.9,157.1 L434.2,157.6 L433.3,157.3 L432.7,156.7 L431.8,156.5 L431.0,156.9 L430.9,157.7 L431.6,158.2 L432.5,158.2 L433.3,158.4 L434.2,158.6 L435.1,158.6 L435.8,159.2 L436.4,159.9 L436.2,160.7 L435.5,161.1 L434.6,160.8 L434.1,160.1 L434.1,159.2 L434.9,158.9 L435.7,159.3 L435.8,160.2 L435.4,161.0 L435.2,161.9 L434.6,162.6 L433.7,162.6 L432.9,162.8 L433.0,163.6 L433.7,164.1 L434.2,164.8 L434.5,165.7 L434.5,166.6 L434.9,167.4 L435.8,167.5 L436.6,167.8 L437.2,168.4 L437.6,169.2 L438.0,170.0 L438.8,170.3 L439.6,169.9 L440.0,169.1 L440.5,168.3 L440.3,167.5 L440.0,166.6 L439.9,165.8 L440.6,165.3 L441.4,165.7 L442.2,166.2 L443.0,166.4 L443.8,165.9 L444.6,165.6 L445.5,165.4 L446.3,165.0 L446.9,165.6 L446.8,166.5 L446.3,167.2 L445.5,167.3 L444.7,166.8 L443.9,166.4 L443.2,166.8 L443.2,167.7 L443.2,168.6 L442.7,169.3 L442.0,169.8 L441.7,170.7 L441.4,171.5 L441.1,172.3 L441.0,173.2 L441.0,174.1 L441.7,174.5 L442.2,173.8 L441.7,173.1 L441.8,173.8 L442.7,173.8 L443.5,173.6 L444.4,173.4 L445.3,173.2 L446.1,173.4 L446.2,174.3 L445.7,175.0 L445.2,175.7 L444.5,176.4 L443.9,177.0 L443.8,177.9 L443.9,178.8 L443.5,179.5 L443.0,179.2 L443.7,178.7 L444.6,178.7 L445.4,179.0 L445.4,179.0" fill="none" stroke="#cfcfcf" stroke-width="1.3" stroke-linecap="round" stroke-linejoin="round"/>
<path d="M426.0,136.0 L426.8,136.4 L427.5,137.0 L428.1,137.6 L428.6,138.4 L429.3,138.9 L430.1,139.2 L431.0,139.5 L431.8,139.5 L432.7,139.6 L433.2,140.4 L433.9,141.0 L434.2,141.8 L434.4,142.7 L434.8,143.4 L435.5,143.4 L435.0,142.9 L434.7,143.7 L435.3,144.3 L435.4,143.5 L434.5,143.2 L433.7,143.1 L432.4,143.3 L431.6,143.7 L430.7,143.7 L429.9,143.3 L429.2,142.8 L428.8,142.0 L429.7,141.8 L430.4,142.3 L430.9,143.1 L431.4,143.8 L431.5,144.7 L431.5,145.6 L431.2,146.5 L430.9,147.3 L431.3,148.0 L432.1,148.4 L432.5,149.2 L433.2,149.8 L433.5,150.6 L433.2,151.4 L432.6,152.1 L431.8,152.5 L431.0,152.8 L430.2,153.2 L429.6,153.9 L428.8,154.3 L428.0,154.0 L428.7,153.7 L429.3,154.4 L429.4,155.3 L429.7,156.1 L430.2,156.9 L431.0,157.2 L431.9,157.3 L432.8,157.3 L433.1,156.5 L433.0,155.6 L433.5,155.0 L434.3,155.3 L434.6,156.1 L435.1,156.8 L435.9,156.6 L436.1,155.7 L435.7,154.9 L434.9,154.6 L435.3,155.2 L435.7,154.4 L435.4,153.6 L434.7,153.0 L434.8,153.7 L435.3,153.2 L435.4,152.3 L434.8,151.7 L434.3,152.3 L435.1,152.5 L435.5,151.8 L435.8,151.0 L436.3,150.2 L437.1,150.1 L437.8,150.7 L438.1,151.5 L438.3,152.4 L438.6,153.3 L439.2,153.9 L439.2,154.8 L438.7,155.6 L437.8,155.7 L436.9,155.4 L436.1,155.8 L435.7,156.6 L434.9,157.1 L434.2,157.6 L433.3,157.3 L432.7,156.7 L431.8,156.5 L431.0,156.9 L430.9,157.7 L431.6,158.2 L432.5,158.2 L433.3,158.4 L434.2,158.6 L435.1,158.6 L435.8,159.2 L436.4,159.9 L436.2,160.7 L435.5,161.1 L434.6,160.8 L434.1,160.1 L434.1,159.2 L434.9,158.9 L435.7,159.3 L435.8,160.2 L435.4,161.0 L435.2,161.9 L434.6,162.6 L433.7,162.6 L432.9,162.8 L433.0,163.6 L433.7,164.1 L434.2,164.8 L434.5,165.7 L434.5,166.6 L434.9,167.4 L435.8,167.5 L436.6,167.8 L437.2,168.4 L437.6,169.2 L438.0,170.0 L438.8,170.3 L439.6,169.9 L440.0,169.1 L440.5,168.3 L440.3,167.5 L440.0,166.6 L439.9,165.8 L440.6,165.3 L441.4,165.7 L442.2,166.2 L443.0,166.4 L443.8,165.9 L444.6,165.6 L445.5,165.4 L446.3,165.0 L446.9,165.6 L446.8,166.5 L446.3,167.2 L445.5,167.3 L444.7,166.8 L443.9,166.4 L443.2,166.8 L443.2,167.7 L443.2,168.6 L442.7,169.3 L442.0,169.8 L441.7,170.7 L441.4,171.5 L441.1,172.3 L441.0,173.2 L441.0,174.1 L441.7,174.5 L442.2,173.8 L441.7,173.1 L441.8,173.8 L442.7,173.8 L443.5,173.6 L444.4,173.4 L445.3,173.2 L446.1,173.4 L446.2,174.3 L445.7,175.0 L445.2,175.7 L444.5,176.4 L443.9,177.0 L443.8,177.9 L443.9,178.8 L443.5,179.5 L443.0,179.2 L443.7,178.7 L444.6,178.7 L445.4,179.0 L445.4,179.0" fill="none" stroke="#fff" stroke-width="0.52" stroke-linecap="round" stroke-linejoin="round"/>
<path d="M438.0,134.0 L438.3,134.8 L438.6,135.7 L438.9,136.5 L439.0,137.4 L439.1,138.3 L439.3,139.1 L440.0,139.7 L440.7,140.3 L440.8,141.2 L440.8,142.1 L441.5,142.5 L442.1,142.0 L442.3,141.1 L442.6,140.3 L442.7,139.4 L442.2,138.7 L441.6,138.0 L441.5,137.2 L442.0,136.5 L442.8,136.8 L442.5,137.7 L441.7,138.0 L441.4,137.4 L442.1,137.6 L442.2,138.5 L441.7,139.2 L440.9,139.6 L440.1,139.8 L440.4,139.1 L441.0,139.7 L440.5,140.5 L440.0,141.2 L439.7,142.0 L439.8,142.9 L439.9,143.8 L440.0,144.7 L439.6,145.5 L439.0,146.2 L438.7,147.0 L438.9,147.9 L439.1,148.8 L439.5,149.6 L439.7,150.4 L440.1,151.2 L440.8,151.7 L441.7,151.6 L442.3,150.9 L442.9,150.2 L443.1,149.3 L443.3,148.5 L443.3,147.6 L442.8,146.8 L442.2,146.2 L441.7,145.4 L441.2,144.7 L441.2,144.7" fill="none" stroke="#d2d2d2" stroke-width="1.2" stroke-linecap="round" stroke-linejoin="round"/>
<path d="M438.0,134.0 L438.3,134.8 L438.6,135.7 L438.9,136.5 L439.0,137.4 L439.1,138.3 L439.3,139.1 L440.0,139.7 L440.7,140.3 L440.8,141.2 L440.8,142.1 L441.5,142.5 L442.1,142.0 L442.3,141.1 L442.6,140.3 L442.7,139.4 L442.2,138.7 L441.6,138.0 L441.5,137.2 L442.0,136.5 L442.8,136.8 L442.5,137.7 L441.7,138.0 L441.4,137.4 L442.1,137.6 L442.2,138.5 L441.7,139.2 L440.9,139.6 L440.1,139.8 L440.4,139.1 L441.0,139.7 L440.5,140.5 L440.0,141.2 L439.7,142.0 L439.8,142.9 L439.9,143.8 L440.0,144.7 L439.6,145.5 L439.0,146.2 L438.7,147.0 L438.9,147.9 L439.1,148.8 L439.5,149.6 L439.7,150.4 L440.1,151.2 L440.8,151.7 L441.7,151.6 L442.3,150.9 L442.9,150.2 L443.1,149.3 L443.3,148.5 L443.3,147.6 L442.8,146.8 L442.2,146.2 L441.7,145.4 L441.2,144.7 L441.2,144.7" fill="none" stroke="#fff" stroke-width="0.48" stroke-linecap="round" stroke-linejoin="round"/>
<path d="M446.0,141.0 L446.8,141.4 L447.7,141.6 L448.6,141.8 L449.4,141.6 L450.3,141.2 L451.1,141.1 L451.9,141.5 L452.4,142.2 L452.6,143.1 L452.3,143.9 L451.6,144.5 L450.9,145.1 L450.4,145.8 L450.1,146.6 L449.7,147.4 L449.0,147.9 L448.1,148.1 L447.2,148.0 L446.3,147.7 L445.5,148.0 L444.9,148.6 L444.5,149.4 L444.6,150.3 L445.1,151.1 L445.7,151.7 L446.1,152.5 L445.8,153.3 L445.0,153.9 L444.2,154.3 L444.4,153.5 L445.2,153.9 L445.4,154.8 L445.6,155.7 L445.8,156.5 L446.2,157.4 L446.8,158.0 L447.7,158.1 L448.6,158.1 L449.4,157.6 L449.8,156.9 L450.3,156.2 L451.1,155.8 L452.0,156.0 L452.9,156.1 L453.7,155.8 L454.4,155.1 L454.7,154.3 L455.1,153.5 L456.0,153.4 L456.8,153.8 L457.2,154.6 L457.3,155.1" fill="none" stroke="#a0a0a0" stroke-width="0.8" stroke-linecap="round" stroke-linejoin="round"/>
<path d="M446.0,164.0 L446.9,163.9 L447.4,163.2 L446.9,162.4 L446.6,161.6 L447.0,160.8 L447.7,160.2 L448.0,159.5 L447.9,158.6 L448.5,157.9 L449.3,158.2 L450.1,158.6 L450.4,159.5 L449.9,160.2 L449.2,160.8 L448.5,161.4 L448.4,162.2 L448.5,163.1 L448.3,164.0 L448.0,164.8 L447.2,165.3 L446.3,165.2 L445.4,165.3 L444.8,165.9 L444.8,166.8 L445.7,167.0 L446.4,166.5 L446.8,165.7 L447.4,165.0 L447.8,164.2 L448.2,163.4 L448.4,162.5 L448.8,161.7 L449.6,161.3 L450.0,160.5 L450.4,159.7 L450.8,158.9 L450.7,158.0 L450.3,157.2 L450.4,156.4 L451.2,156.5 L451.8,157.2 L451.8,158.1 L451.2,158.8 L450.4,158.8 L449.5,158.7 L448.8,159.2 L448.7,160.1 L449.0,160.9 L449.8,160.7 L450.2,159.9 L450.2,159.0 L450.1,158.2 L449.8,157.3 L449.3,157.5 L450.0,157.7 L449.9,156.8 L449.2,156.9 L449.7,157.6 L450.6,157.7 L451.4,157.9 L452.3,158.2 L453.1,157.9 L453.7,157.2 L454.6,157.0 L455.4,156.7 L455.9,156.0 L456.0,155.1 L455.7,154.3 L455.0,154.6 L454.5,155.3 L453.8,156.0 L453.0,156.1 L452.1,156.1 L451.4,156.6 L450.5,156.8 L449.6,156.6 L448.9,156.0 L449.1,155.4 L449.5,156.0 L449.0,156.7 L448.1,156.5 L447.6,155.8 L448.4,156.0 L448.3,156.9 L447.6,157.3 L446.9,157.8 L446.4,158.6 L445.8,159.3 L445.3,160.0 L445.2,160.9 L445.5,161.7 L445.8,162.5 L445.5,163.4 L444.8,163.9 L444.0,164.3 L443.1,164.6 L442.2,164.6 L441.7,165.3 L442.0,166.1 L442.5,166.9 L443.1,167.5 L443.9,168.0 L444.8,168.1 L445.6,168.5 L446.5,168.7 L447.3,168.9 L448.2,168.8 L449.1,168.8 L449.9,168.4 L450.8,168.2 L451.7,168.4 L452.2,169.1 L452.6,170.0 L453.2,170.7 L453.6,171.4 L454.0,172.3 L454.6,172.9 L455.5,173.0 L456.3,172.9 L457.2,173.1 L458.1,173.0 L459.0,172.8 L459.9,172.7 L460.6,172.2 L461.5,171.9 L462.1,172.5 L461.9,173.4 L461.4,174.0 L460.5,174.4 L459.6,174.4 L458.8,174.1 L459.3,173.3 L460.1,173.5 L460.8,174.2 L461.6,174.3 L462.5,174.0 L463.3,173.8 L464.2,173.9 L465.1,174.1 L465.9,174.5 L466.4,175.2 L466.8,176.0 L467.5,176.5 L468.2,177.0 L468.0,177.8 L467.1,177.6 L466.6,176.9 L466.4,176.1 L467.0,175.5 L467.8,175.0 L468.6,174.8 L468.5,175.5 L467.8,175.1 L467.8,174.2 L468.4,173.6 L469.2,173.6 L469.4,174.5 L468.6,174.6 L468.1,173.9 L468.0,173.0 L467.5,172.2 L466.7,172.4 L466.0,173.0 L465.3,173.6 L464.5,174.0 L464.1,174.8 L462.8,175.0 L462.0,174.9 L461.4,175.5 L461.1,176.4 L460.5,177.0 L460.4,177.9 L460.5,178.8 L460.7,179.7 L460.5,180.5 L460.1,181.3 L460.2,182.2 L461.1,182.1 L461.0,181.3 L460.4,180.6 L460.2,179.7 L460.8,179.1 L461.4,179.7 L460.8,180.4 L459.9,180.3 L459.7,179.6 L460.5,179.5 L461.1,180.2 L461.8,180.7 L462.6,181.2 L463.3,181.7 L463.9,182.4 L464.6,182.9 L465.5,183.0 L465.5,183.0" fill="none" stroke="#cfcfcf" stroke-width="1.3" stroke-linecap="round" stroke-linejoin="round"/>
<path d="M446.0,164.0 L446.9,163.9 L447.4,163.2 L446.9,162.4 L446.6,161.6 L447.0,160.8 L447.7,160.2 L448.0,159.5 L447.9,158.6 L448.5,157.9 L449.3,158.2 L450.1,158.6 L450.4,159.5 L449.9,160.2 L449.2,160.8 L448.5,161.4 L448.4,162.2 L448.5,163.1 L448.3,164.0 L448.0,164.8 L447.2,165.3 L446.3,165.2 L445.4,165.3 L444.8,165.9 L444.8,166.8 L445.7,167.0 L446.4,166.5 L446.8,165.7 L447.4,165.0 L447.8,164.2 L448.2,163.4 L448.4,162.5 L448.8,161.7 L449.6,161.3 L450.0,160.5 L450.4,159.7 L450.8,158.9 L450.7,158.0 L450.3,157.2 L450.4,156.4 L451.2,156.5 L451.8,157.2 L451.8,158.1 L451.2,158.8 L450.4,158.8 L449.5,158.7 L448.8,159.2 L448.7,160.1 L449.0,160.9 L449.8,160.7 L450.2,159.9 L450.2,159.0 L450.1,158.2 L449.8,157.3 L449.3,157.5 L450.0,157.7 L449.9,156.8 L449.2,156.9 L449.7,157.6 L450.6,157.7 L451.4,157.9 L452.3,158.2 L453.1,157.9 L453.7,157.2 L454.6,157.0 L455.4,156.7 L455.9,156.0 L456.0,155.1 L455.7,154.3 L455.0,154.6 L454.5,155.3 L453.8,156.0 L453.0,156.1 L452.1,156.1 L451.4,156.6 L450.5,156.8 L449.6,156.6 L448.9,156.0 L449.1,155.4 L449.5,156.0 L449.0,156.7 L448.1,156.5 L447.6,155.8 L448.4,156.0 L448.3,156.9 L447.6,157.3 L446.9,157.8 L446.4,158.6 L445.8,159.3 L445.3,160.0 L445.2,160.9 L445.5,161.7 L445.8,162.5 L445.5,163.4 L444.8,163.9 L444.0,164.3 L443.1,164.6 L442.2,164.6 L441.7,165.3 L442.0,166.1 L442.5,166.9 L443.1,167.5 L443.9,168.0 L444.8,168.1 L445.6,168.5 L446.5,168.7 L447.3,168.9 L448.2,168.8 L449.1,168.8 L449.9,168.4 L450.8,168.2 L451.7,168.4 L452.2,169.1 L452.6,170.0 L453.2,170.7 L453.6,171.4 L454.0,172.3 L454.6,172.9 L455.5,173.0 L456.3,172.9 L457.2,173.1 L458.1,173.0 L459.0,172.8 L459.9,172.7 L460.6,172.2 L461.5,171.9 L462.1,172.5 L461.9,173.4 L461.4,174.0 L460.5,174.4 L459.6,174.4 L458.8,174.1 L459.3,173.3 L460.1,173.5 L460.8,174.2 L461.6,174.3 L462.5,174.0 L463.3,173.8 L464.2,173.9 L465.1,174.1 L465.9,174.5 L466.4,175.2 L466.8,176.0 L467.5,176.5 L468.2,177.0 L468.0,177.8 L467.1,177.6 L466.6,176.9 L466.4,176.1 L467.0,175.5 L467.8,175.0 L468.6,174.8 L468.5,175.5 L467.8,175.1 L467.8,174.2 L468.4,173.6 L469.2,173.6 L469.4,174.5 L468.6,174.6 L468.1,173.9 L468.0,173.0 L467.5,172.2 L466.7,172.4 L466.0,173.0 L465.3,173.6 L464.5,174.0 L464.1,174.8 L462.8,175.0 L462.0,174.9 L461.4,175.5 L461.1,176.4 L460.5,177.0 L460.4,177.9 L460.5,178.8 L460.7,179.7 L460.5,180.5 L460.1,181.3 L460.2,182.2 L461.1,182.1 L461.0,181.3 L460.4,180.6 L460.2,179.7 L460.8,179.1 L461.4,179.7 L460.8,180.4 L459.9,180.3 L459.7,179.6 L460.5,179.5 L461.1,180.2 L461.8,180.7 L462.6,181.2 L463.3,181.7 L463.9,182.4 L464.6,182.9 L465.5,183.0 L465.5,183.0" fill="none" stroke="#fff" stroke-width="0.52" stroke-linecap="round" stroke-linejoin="round"/>
<path d="M466.2,184.5 Q467.6,186.4 468.0,187.1 Q468.5,187.8 468.3,188.1 Q468.1,188.4 469.5,189.4 Q470.9,190.3 470.3,190.6 Q469.8,190.9 468.9,191.9 Q467.9,192.8 467.5,194.0 Q467.1,195.1 467.4,195.1 Q467.7,195.1 468.8,196.1 Q469.9,197.2 470.9,197.1 L472.0,197.0" fill="none" stroke="#9a9a9a" stroke-width="0.8" stroke-linecap="round" stroke-linejoin="round"/>
<path d="M468.0,186.0 L468.0,186.9 L467.8,187.7 L468.0,188.6 L468.4,189.4 L468.8,190.2 L469.2,191.0 L469.4,191.9 L469.5,192.8 L470.0,193.5 L470.7,194.0 L471.5,194.4 L472.3,194.8 L473.2,194.8 L474.1,194.6 L474.6,193.9 L474.3,193.1 L473.8,192.3 L473.1,191.7 L472.4,191.3 L471.8,190.5 L471.5,189.7 L471.6,188.8 L472.4,189.0 L472.6,189.8 L472.3,190.7 L471.8,191.4 L471.2,192.1 L470.9,192.9 L471.0,193.8 L471.5,194.5 L472.0,195.3 L472.4,196.1 L472.9,196.9 L472.9,197.7 L472.9,198.6 L472.9,199.5 L472.8,200.4 L472.5,201.3 L471.7,201.7 L470.9,201.4 L471.1,200.5 L471.8,200.1 L472.7,200.4 L473.5,200.8 L473.1,201.6 L472.2,201.7 L471.4,201.3 L470.6,200.9 L469.8,201.2 L469.2,201.8 L468.7,202.6 L468.0,203.2 L467.1,203.3 L466.3,203.0 L465.5,202.6 L464.6,202.5 L463.7,202.3 L462.7,201.4 L462.6,200.5 L462.2,199.7 L461.5,199.2 L460.8,198.6 L459.9,198.7 L460.0,199.5 L460.8,199.8 L460.8,199.8" fill="none" stroke="#cacaca" stroke-width="1.2" stroke-linecap="round" stroke-linejoin="round"/>
<path d="M468.0,186.0 L468.0,186.9 L467.8,187.7 L468.0,188.6 L468.4,189.4 L468.8,190.2 L469.2,191.0 L469.4,191.9 L469.5,192.8 L470.0,193.5 L470.7,194.0 L471.5,194.4 L472.3,194.8 L473.2,194.8 L474.1,194.6 L474.6,193.9 L474.3,193.1 L473.8,192.3 L473.1,191.7 L472.4,191.3 L471.8,190.5 L471.5,189.7 L471.6,188.8 L472.4,189.0 L472.6,189.8 L472.3,190.7 L471.8,191.4 L471.2,192.1 L470.9,192.9 L471.0,193.8 L471.5,194.5 L472.0,195.3 L472.4,196.1 L472.9,196.9 L472.9,197.7 L472.9,198.6 L472.9,199.5 L472.8,200.4 L472.5,201.3 L471.7,201.7 L470.9,201.4 L471.1,200.5 L471.8,200.1 L472.7,200.4 L473.5,200.8 L473.1,201.6 L472.2,201.7 L471.4,201.3 L470.6,200.9 L469.8,201.2 L469.2,201.8 L468.7,202.6 L468.0,203.2 L467.1,203.3 L466.3,203.0 L465.5,202.6 L464.6,202.5 L463.7,202.3 L462.7,201.4 L462.6,200.5 L462.2,199.7 L461.5,199.2 L460.8,198.6 L459.9,198.7 L460.0,199.5 L460.8,199.8 L460.8,199.8" fill="none" stroke="#fff" stroke-width="0.48" stroke-linecap="round" stroke-linejoin="round"/>
<path d="M436.0,120.0 L436.8,120.3 L437.7,120.3 L438.5,119.9 L438.9,119.1 L438.7,118.2 L438.1,118.2 L438.8,118.7 L439.5,118.1 L439.8,117.3 L440.4,116.7 L441.3,116.6 L442.2,117.0 L443.0,117.1 L443.9,116.9 L444.7,116.6 L445.6,116.6 L446.5,116.6 L447.3,116.1 L447.9,115.5 L448.4,114.8 L449.1,114.2 L450.0,114.0 L450.8,114.3 L451.4,115.0 L451.2,115.9 L450.5,116.4 L449.7,116.9 L449.0,117.5 L448.8,118.3 L448.4,119.2 L447.7,119.8 L446.9,120.0 L446.0,120.1 L445.2,119.7 L444.7,118.9 L443.7,118.0 L443.3,117.3 L442.9,116.5 L442.2,115.9 L441.4,116.2 L441.5,117.0 L442.3,117.3 L443.0,116.8 L443.7,116.2 L444.2,115.4 L445.0,115.2 L445.6,115.9 L445.9,116.7 L445.6,117.6 L445.1,118.3 L445.2,119.2 L445.7,119.9 L446.5,120.2 L447.4,119.8 L448.1,119.4 L449.0,119.7 L449.4,120.5 L449.5,121.4 L448.9,122.1 L448.0,121.9 L447.1,121.7 L446.3,122.0 L446.4,122.9 L447.2,123.0 L447.5,122.3 L447.3,122.8 L447.9,122.3 L447.4,121.8 L447.5,122.6 L448.3,122.5 L448.7,121.6 L449.4,121.1 L450.3,120.8 L451.0,120.3 L451.5,119.5 L451.9,118.8 L451.1,118.4 L450.7,119.1 L451.3,119.8 L451.8,120.5 L451.8,121.4 L451.8,122.3 L451.9,123.2 L451.6,124.0 L451.4,124.9 L450.6,125.3 L449.9,124.8 L449.9,123.9 L449.8,123.0 L449.1,122.6 L448.7,123.4 L448.8,123.8" fill="none" stroke="#d6d6d6" stroke-width="1.2" stroke-linecap="round" stroke-linejoin="round"/>
<path d="M436.0,120.0 L436.8,120.3 L437.7,120.3 L438.5,119.9 L438.9,119.1 L438.7,118.2 L438.1,118.2 L438.8,118.7 L439.5,118.1 L439.8,117.3 L440.4,116.7 L441.3,116.6 L442.2,117.0 L443.0,117.1 L443.9,116.9 L444.7,116.6 L445.6,116.6 L446.5,116.6 L447.3,116.1 L447.9,115.5 L448.4,114.8 L449.1,114.2 L450.0,114.0 L450.8,114.3 L451.4,115.0 L451.2,115.9 L450.5,116.4 L449.7,116.9 L449.0,117.5 L448.8,118.3 L448.4,119.2 L447.7,119.8 L446.9,120.0 L446.0,120.1 L445.2,119.7 L444.7,118.9 L443.7,118.0 L443.3,117.3 L442.9,116.5 L442.2,115.9 L441.4,116.2 L441.5,117.0 L442.3,117.3 L443.0,116.8 L443.7,116.2 L444.2,115.4 L445.0,115.2 L445.6,115.9 L445.9,116.7 L445.6,117.6 L445.1,118.3 L445.2,119.2 L445.7,119.9 L446.5,120.2 L447.4,119.8 L448.1,119.4 L449.0,119.7 L449.4,120.5 L449.5,121.4 L448.9,122.1 L448.0,121.9 L447.1,121.7 L446.3,122.0 L446.4,122.9 L447.2,123.0 L447.5,122.3 L447.3,122.8 L447.9,122.3 L447.4,121.8 L447.5,122.6 L448.3,122.5 L448.7,121.6 L449.4,121.1 L450.3,120.8 L451.0,120.3 L451.5,119.5 L451.9,118.8 L451.1,118.4 L450.7,119.1 L451.3,119.8 L451.8,120.5 L451.8,121.4 L451.8,122.3 L451.9,123.2 L451.6,124.0 L451.4,124.9 L450.6,125.3 L449.9,124.8 L449.9,123.9 L449.8,123.0 L449.1,122.6 L448.7,123.4 L448.8,123.8" fill="none" stroke="#fff" stroke-width="0.48" stroke-linecap="round" stroke-linejoin="round"/>
<path d="M440.0,184.0 L440.9,184.0 L441.8,184.0 L442.7,184.0 L443.5,184.5 L444.2,185.0 L445.1,185.0 L445.7,184.4 L446.3,183.7 L446.3,182.8 L446.5,182.0 L447.4,181.7 L448.3,181.8 L449.2,181.9 L450.0,182.1 L450.9,182.5 L451.6,183.0 L451.9,183.8 L452.0,184.7 L452.2,185.5 L452.5,186.4 L452.6,187.3 L452.0,187.9 L451.3,187.5 L451.3,186.6 L451.5,185.8 L451.6,184.9 L451.8,184.0 L452.0,183.1 L451.8,182.3 L451.4,181.4 L450.6,181.2 L449.8,181.6 L449.0,182.0 L448.2,182.4 L447.4,182.9 L446.7,184.0 L447.2,184.7 L448.0,185.2 L448.8,185.5 L449.6,185.1 L450.2,184.5 L450.9,184.0 L451.8,184.0 L452.0,184.9 L451.4,185.4 L450.6,185.1 L451.3,184.7 L451.8,185.4 L452.2,186.2 L452.5,187.1 L452.6,188.0 L452.9,188.8 L453.7,189.1 L454.3,188.5 L454.2,187.6 L454.7,186.9 L455.6,186.6 L456.4,187.0 L456.9,187.8 L456.9,187.8" fill="none" stroke="#d8d8d8" stroke-width="1.2" stroke-linecap="round" stroke-linejoin="round"/>
<path d="M440.0,184.0 L440.9,184.0 L441.8,184.0 L442.7,184.0 L443.5,184.5 L444.2,185.0 L445.1,185.0 L445.7,184.4 L446.3,183.7 L446.3,182.8 L446.5,182.0 L447.4,181.7 L448.3,181.8 L449.2,181.9 L450.0,182.1 L450.9,182.5 L451.6,183.0 L451.9,183.8 L452.0,184.7 L452.2,185.5 L452.5,186.4 L452.6,187.3 L452.0,187.9 L451.3,187.5 L451.3,186.6 L451.5,185.8 L451.6,184.9 L451.8,184.0 L452.0,183.1 L451.8,182.3 L451.4,181.4 L450.6,181.2 L449.8,181.6 L449.0,182.0 L448.2,182.4 L447.4,182.9 L446.7,184.0 L447.2,184.7 L448.0,185.2 L448.8,185.5 L449.6,185.1 L450.2,184.5 L450.9,184.0 L451.8,184.0 L452.0,184.9 L451.4,185.4 L450.6,185.1 L451.3,184.7 L451.8,185.4 L452.2,186.2 L452.5,187.1 L452.6,188.0 L452.9,188.8 L453.7,189.1 L454.3,188.5 L454.2,187.6 L454.7,186.9 L455.6,186.6 L456.4,187.0 L456.9,187.8 L456.9,187.8" fill="none" stroke="#fff" stroke-width="0.48" stroke-linecap="round" stroke-linejoin="round"/>
<path d="M468.5,136.8 Q467.8,135.1 467.5,134.1 Q467.3,133.0 467.8,132.4 Q468.4,131.7 467.8,131.3 Q467.3,130.9 467.8,130.5 Q468.2,130.0 468.7,129.8 Q469.1,129.6 469.7,128.6 Q470.3,127.5 470.7,128.1 Q471.1,128.6 472.0,129.7 Q472.8,130.7 473.3,130.5 Q473.8,130.3 474.2,130.6 Q474.6,130.9 474.9,130.1 Q475.2,129.2 476.0,128.8 Q476.8,128.3 477.4,128.5 Q478.0,128.7 478.9,128.8 Q479.7,128.9 480.7,129.0 Q481.7,129.1 480.7,129.3 Q479.7,129.5 480.1,130.6 Q480.5,131.6 479.5,132.7 Q478.4,133.8 479.6,133.8 Q480.8,133.7 481.9,133.5 Q483.0,133.3 483.4,134.0 Q483.7,134.7 483.9,135.2 Q484.0,135.8 484.3,136.4 Q484.6,137.0 485.5,137.9 Q486.4,138.8 485.8,138.9 Q485.3,139.0 484.0,139.2 Q482.8,139.4 482.4,140.2 Q482.1,141.0 481.0,141.0 Q479.9,141.1 479.6,140.5 Q479.3,140.0 478.4,139.3 Q477.5,138.5 477.0,139.3 Q476.5,140.1 476.4,140.8 Q476.2,141.5 476.0,142.6 Q475.8,143.6 475.6,142.8 Q475.4,142.1 474.3,141.9 Q473.1,141.7 472.7,142.3 Q472.3,142.9 471.5,143.3 Q470.8,143.8 470.6,143.8 Q470.3,143.8 470.4,144.8 Q470.5,145.7 470.4,146.5 Q470.4,147.2 471.0,147.9 Q471.5,148.5 472.2,149.2 Q472.9,149.9 472.5,150.4 Q472.2,151.0 471.2,151.4 Q470.3,151.9 469.8,153.0 Q469.3,154.0 470.0,155.0 Q470.7,155.9 471.4,156.5 Q472.0,157.0 472.9,157.1 Q473.9,157.2 472.5,157.9 Q471.1,158.7 471.0,159.7 Q470.8,160.8 470.6,161.3 Q470.4,161.7 471.3,161.9 Q472.2,162.1 472.7,162.8 Q473.3,163.5 474.0,163.8 Q474.7,164.2 475.4,164.5 Q476.2,164.8 476.9,164.3 Q477.5,163.8 477.5,163.8 Q477.4,163.8 478.2,163.7 Q478.9,163.6 479.5,164.6 Q480.2,165.7 480.6,166.0 Q481.0,166.4 480.1,167.4 Q479.3,168.5 479.1,168.7 Q478.9,169.0 478.4,170.2 Q477.9,171.4 478.8,171.6 Q479.6,171.7 480.0,172.0 Q480.3,172.2 480.8,172.5 Q481.3,172.7 482.1,173.0 Q482.9,173.3 483.7,174.3 Q484.4,175.4 484.8,175.3 Q485.2,175.1 485.5,176.0 Q485.8,176.9 486.0,177.9 Q486.3,178.8 486.5,179.0 Q486.7,179.3 486.3,179.6 Q485.9,180.0 485.1,180.9 Q484.3,181.8 484.4,182.5 Q484.4,183.3 484.3,183.7 Q484.1,184.2 485.4,184.8 Q486.7,185.4 487.3,186.2 Q487.8,186.9 487.6,186.8 Q487.5,186.6 487.1,187.7 Q486.8,188.9 485.9,189.3 Q485.1,189.8 484.9,189.9 Q484.6,190.0 483.8,189.9 Q482.9,189.8 482.4,188.7 Q481.8,187.6 480.9,187.3 L480.0,187.0" fill="none" stroke="#cf7880" stroke-width="0.8" stroke-linecap="round" stroke-linejoin="round"/>
<circle cx="463.5" cy="150" r="3.3" fill="none" stroke="#cf7880" stroke-width="0.8"/>
<path d="M466.5,149.9 Q467.1,149.5 467.5,149.0 Q467.9,148.5 468.6,148.0 Q469.4,147.4 469.7,147.2 L470.0,147.0" fill="none" stroke="#cf7880" stroke-width="0.7" stroke-linecap="round" stroke-linejoin="round"/>
<path d="M476.1,145.9 Q476.9,146.5 477.4,147.5 Q478.0,148.5 478.2,148.5 Q478.5,148.5 478.8,149.1 Q479.0,149.7 478.4,150.7 Q477.8,151.7 478.1,151.5 Q478.3,151.3 477.8,152.2 Q477.3,153.2 476.6,153.4 Q475.8,153.7 476.5,154.2 Q477.3,154.7 477.8,155.2 Q478.3,155.8 478.4,156.2 Q478.4,156.7 479.2,156.8 L480.0,157.0" fill="none" stroke="#d58a90" stroke-width="0.7" stroke-linecap="round" stroke-linejoin="round"/>
<path d="M427.9,164.1 Q430.3,163.2 430.4,162.9 Q430.5,162.7 430.8,162.2 Q431.0,161.8 432.2,161.7 Q433.3,161.7 433.2,161.7 Q433.0,161.8 433.5,163.0 Q434.0,164.2 435.2,163.9 Q436.5,163.7 437.3,165.4 Q438.2,167.1 437.3,167.2 Q436.4,167.3 435.3,167.1 Q434.2,166.8 434.1,167.4 Q434.1,167.9 433.2,168.7 Q432.3,169.4 431.6,170.1 Q430.9,170.9 432.0,171.8 Q433.1,172.6 433.8,172.8 Q434.4,172.9 435.0,173.4 Q435.6,173.8 436.1,173.7 Q436.7,173.7 437.9,174.9 Q439.2,176.2 438.5,176.3 Q437.8,176.5 436.7,176.4 Q435.6,176.4 435.0,176.7 Q434.5,177.0 434.6,177.9 Q434.6,178.8 434.2,179.2 Q433.8,179.7 434.6,180.8 Q435.3,181.8 434.8,181.6 Q434.3,181.3 436.0,182.1 Q437.7,182.9 438.4,183.3 Q439.2,183.8 437.4,184.5 Q435.7,185.3 435.9,185.4 Q436.2,185.4 434.7,186.0 Q433.3,186.6 433.1,187.3 L433.0,188.0" fill="none" stroke="#a8773f" stroke-width="1.4" stroke-linecap="round" stroke-linejoin="round"/>
<path d="M427.9,164.1 Q430.3,163.2 430.4,162.9 Q430.5,162.7 430.8,162.2 Q431.0,161.8 432.2,161.7 Q433.3,161.7 433.2,161.7 Q433.0,161.8 433.5,163.0 Q434.0,164.2 435.2,163.9 Q436.5,163.7 437.3,165.4 Q438.2,167.1 437.3,167.2 Q436.4,167.3 435.3,167.1 Q434.2,166.8 434.1,167.4 Q434.1,167.9 433.2,168.7 Q432.3,169.4 431.6,170.1 Q430.9,170.9 432.0,171.8 Q433.1,172.6 433.8,172.8 Q434.4,172.9 435.0,173.4 Q435.6,173.8 436.1,173.7 Q436.7,173.7 437.9,174.9 Q439.2,176.2 438.5,176.3 Q437.8,176.5 436.7,176.4 Q435.6,176.4 435.0,176.7 Q434.5,177.0 434.6,177.9 Q434.6,178.8 434.2,179.2 Q433.8,179.7 434.6,180.8 Q435.3,181.8 434.8,181.6 Q434.3,181.3 436.0,182.1 Q437.7,182.9 438.4,183.3 Q439.2,183.8 437.4,184.5 Q435.7,185.3 435.9,185.4 Q436.2,185.4 434.7,186.0 Q433.3,186.6 433.1,187.3 L433.0,188.0" fill="none" stroke="#fff" stroke-width="0.63" stroke-linecap="round" stroke-linejoin="round"/>
<circle cx="434" cy="176" r="0.9" fill="#444"/><circle cx="431" cy="182" r="0.8" fill="#444"/><circle cx="437" cy="170" r="0.7" fill="#444"/>
<circle cx="472" cy="204.5" r="3.0" fill="none" stroke="#5a5fa8" stroke-width="0.9"/>
<path d="M469.5,207.3 Q468.9,207.4 467.9,208.1 Q466.9,208.8 466.7,209.7 Q466.5,210.6 466.4,210.9 Q466.3,211.2 466.6,211.9 Q466.8,212.6 466.7,213.1 Q466.7,213.6 467.0,214.6 Q467.4,215.7 466.8,216.2 Q466.2,216.6 465.7,217.0 Q465.2,217.3 465.0,217.6 Q464.7,217.8 465.8,217.8 Q466.9,217.8 466.9,218.9 Q466.9,220.1 467.9,219.7 Q469.0,219.3 470.1,219.5 Q471.2,219.8 471.1,218.8 Q471.0,217.9 471.7,217.3 Q472.3,216.7 473.2,215.9 Q474.0,215.1 474.4,214.4 Q474.9,213.7 474.8,213.8 Q474.7,213.8 475.2,212.8 Q475.8,211.9 475.7,211.2 Q475.5,210.6 475.0,209.6 Q474.5,208.5 474.2,208.2 L474.0,208.0" fill="none" stroke="#5a5fa8" stroke-width="0.9" stroke-linecap="round" stroke-linejoin="round"/>
<path d="M476.4,200.5 Q476.7,200.7 477.2,200.6 Q477.7,200.5 479.0,199.6 Q480.2,198.7 480.8,198.8 Q481.3,199.0 481.8,199.9 Q482.2,200.8 483.1,200.8 Q483.9,200.8 484.2,201.7 Q484.6,202.5 485.2,202.3 Q485.8,202.2 485.3,203.0 Q484.8,203.8 483.6,204.8 Q482.3,205.8 482.5,206.8 Q482.6,207.8 482.8,208.2 Q483.1,208.6 483.5,209.2 Q483.8,209.8 484.7,210.0 Q485.6,210.1 484.9,210.0 Q484.1,209.9 483.3,210.8 Q482.6,211.7 482.5,212.2 Q482.4,212.8 482.0,212.8 Q481.6,212.9 480.8,212.5 Q480.0,212.1 479.2,212.0 Q478.4,211.9 477.2,211.9 L476.0,212.0" fill="none" stroke="#b9bcd8" stroke-width="0.9" stroke-linecap="round" stroke-linejoin="round"/>
<path d="M405,171 Q402.1,159.1 404,147" fill="none" stroke="#7078b6" stroke-width="3.8" stroke-linecap="round"/>
<path d="M405,171 Q402.1,159.1 404,147" fill="none" stroke="#bfc4e3" stroke-width="2.4" stroke-linecap="round"/>
<path d="M405,171 Q404.3,158.2 409.5,146.5" fill="none" stroke="#7078b6" stroke-width="3.6" stroke-linecap="round"/>
<path d="M405,171 Q404.3,158.2 409.5,146.5" fill="none" stroke="#bfc4e3" stroke-width="2.2" stroke-linecap="round"/>
<path d="M405,171 Q408.1,159.0 414,148" fill="none" stroke="#7078b6" stroke-width="3.4" stroke-linecap="round"/>
<path d="M405,171 Q408.1,159.0 414,148" fill="none" stroke="#bfc4e3" stroke-width="2.0" stroke-linecap="round"/>
<path d="M405,171 Q414.8,161.5 428,158.5" fill="none" stroke="#7078b6" stroke-width="3.8" stroke-linecap="round"/>
<path d="M405,171 Q414.8,161.5 428,158.5" fill="none" stroke="#bfc4e3" stroke-width="2.4" stroke-linecap="round"/>
<path d="M405,171 Q416.1,165.7 428.5,165" fill="none" stroke="#7078b6" stroke-width="3.4" stroke-linecap="round"/>
<path d="M405,171 Q416.1,165.7 428.5,165" fill="none" stroke="#bfc4e3" stroke-width="2.0" stroke-linecap="round"/>
<path d="M405,171 Q415.5,170.7 426,172" fill="none" stroke="#7078b6" stroke-width="3.2" stroke-linecap="round"/>
<path d="M405,171 Q415.5,170.7 426,172" fill="none" stroke="#bfc4e3" stroke-width="1.8" stroke-linecap="round"/>
<path d="M405,171 Q412.3,176.1 421,178" fill="none" stroke="#7078b6" stroke-width="3.2" stroke-linecap="round"/>
<path d="M405,171 Q412.3,176.1 421,178" fill="none" stroke="#bfc4e3" stroke-width="1.8" stroke-linecap="round"/>
<path d="M405,171 Q407.9,176.5 413,180" fill="none" stroke="#7078b6" stroke-width="3.0" stroke-linecap="round"/>
<path d="M405,171 Q407.9,176.5 413,180" fill="none" stroke="#bfc4e3" stroke-width="1.6" stroke-linecap="round"/>
<line x1="417.0" y1="148.5" x2="423.5" y2="157.5" stroke="#c4c9e6" stroke-width="4.1" stroke-linecap="round" opacity="1"/>
<ellipse cx="417.0" cy="148.5" rx="1.25" ry="2.30" transform="rotate(54.2 417.0 148.5)" fill="#c4c9e6" stroke="#6a73b3" stroke-width="0.8" opacity="1"/>
<ellipse cx="418.6" cy="150.8" rx="1.25" ry="2.30" transform="rotate(54.2 418.6 150.8)" fill="#c4c9e6" stroke="#6a73b3" stroke-width="0.8" opacity="1"/>
<ellipse cx="420.2" cy="153.0" rx="1.25" ry="2.30" transform="rotate(54.2 420.2 153.0)" fill="#c4c9e6" stroke="#6a73b3" stroke-width="0.8" opacity="1"/>
<ellipse cx="421.9" cy="155.2" rx="1.25" ry="2.30" transform="rotate(54.2 421.9 155.2)" fill="#c4c9e6" stroke="#6a73b3" stroke-width="0.8" opacity="1"/>
<ellipse cx="423.5" cy="157.5" rx="1.25" ry="2.30" transform="rotate(54.2 423.5 157.5)" fill="#c4c9e6" stroke="#6a73b3" stroke-width="0.8" opacity="1"/>
<path d="M403.5,170.4 Q403.2,169.9 402.1,168.9 Q401.0,167.9 400.3,167.5 Q399.7,167.1 399.7,166.6 Q399.7,166.1 398.9,165.7 Q398.1,165.4 397.0,165.8 Q395.9,166.2 395.6,166.5 Q395.3,166.9 393.7,166.7 Q392.0,166.6 391.8,167.8 Q391.5,169.0 391.8,169.6 Q392.1,170.1 391.8,170.7 Q391.4,171.2 391.2,171.9 Q390.9,172.6 390.7,173.1 Q390.5,173.7 391.2,174.1 Q392.0,174.5 392.6,174.7 Q393.1,174.9 393.4,175.4 Q393.7,175.9 394.4,175.4 Q395.1,175.0 396.4,175.5 Q397.6,176.1 398.6,175.9 Q399.5,175.6 399.8,175.6 Q400.1,175.5 400.2,174.9 Q400.3,174.4 401.1,173.4 Q401.9,172.4 402.1,172.2 Q402.4,172.0 403.2,171.5 L404.0,171.0" fill="none" stroke="#a3a9d3" stroke-width="0.9" stroke-linecap="round" stroke-linejoin="round"/>
<path d="M403.2,172.4 Q403.5,174.1 402.7,174.0 Q401.9,173.9 402.0,174.9 Q402.1,175.9 401.2,176.5 Q400.4,177.2 400.1,177.9 Q399.8,178.6 400.3,178.3 Q400.7,177.9 402.3,178.3 Q403.8,178.7 403.9,179.4 Q404.0,180.1 405.1,179.7 Q406.3,179.3 406.7,179.3 Q407.1,179.3 407.2,178.8 Q407.3,178.3 407.8,177.5 Q408.2,176.7 409.1,176.3 L410.0,176.0" fill="none" stroke="#b0b5da" stroke-width="0.8" stroke-linecap="round" stroke-linejoin="round"/>
<circle cx="395.5" cy="169" r="2.3" fill="none" stroke="#8a90c4" stroke-width="0.7"/>
<path d="M404.8,171.7 Q406.8,171.5 407.4,172.4 Q408.1,173.2 408.1,174.0 Q408.0,174.7 408.8,174.7 Q409.6,174.7 410.5,175.0 Q411.4,175.4 411.9,175.6 Q412.4,175.8 413.7,175.8 Q415.0,175.8 415.8,176.0 Q416.5,176.2 416.9,176.5 Q417.3,176.7 417.3,177.6 Q417.3,178.5 417.4,179.5 Q417.6,180.5 418.3,180.8 L419.0,181.0" fill="none" stroke="#aab0d6" stroke-width="0.9" stroke-linecap="round" stroke-linejoin="round"/>
<circle cx="400" cy="180" r="1.3" fill="none" stroke="#7bbf4a" stroke-width="0.8"/>
<circle cx="402.5" cy="182.5" r="1.3" fill="none" stroke="#e06060" stroke-width="0.8"/>
<circle cx="399.5" cy="183.5" r="1.3" fill="none" stroke="#f0c040" stroke-width="0.8"/>
<circle cx="413" cy="180" r="1.3" fill="none" stroke="#7bbf4a" stroke-width="0.8"/>
<circle cx="415.5" cy="182.5" r="1.3" fill="none" stroke="#e06060" stroke-width="0.8"/>
<circle cx="412.5" cy="183.5" r="1.3" fill="none" stroke="#f0c040" stroke-width="0.8"/>
<path d="M388.9,109.0 Q387.7,110.5 387.5,111.0 Q387.4,111.4 386.9,112.7 Q386.4,114.0 385.9,114.9 Q385.5,115.8 384.5,115.7 Q383.5,115.7 384.3,116.4 Q385.2,117.1 385.1,117.8 Q385.0,118.5 386.0,119.9 Q387.0,121.2 387.3,121.3 Q387.6,121.4 388.2,122.2 Q388.8,123.0 388.7,123.5 Q388.5,123.9 389.2,124.0 Q389.8,124.2 390.5,124.9 Q391.1,125.7 390.5,126.7 Q389.9,127.6 389.3,127.5 Q388.8,127.3 388.4,128.3 Q388.0,129.2 387.0,129.1 L386.0,129.0" fill="none" stroke="#d49ccd" stroke-width="0.7" stroke-linecap="round" stroke-linejoin="round"/>
<path d="M395.8,97.0 Q396.6,95.8 397.0,95.4 Q397.4,95.0 397.6,94.4 Q397.9,93.8 398.0,93.0 Q398.2,92.2 399.0,92.5 Q399.7,92.8 400.6,93.3 Q401.4,93.9 401.9,94.8 Q402.5,95.7 401.7,96.2 Q400.9,96.6 400.9,96.9 Q401.0,97.3 400.0,97.6 Q399.0,97.9 399.0,98.5 L399.0,99.0" fill="none" stroke="#d49ccd" stroke-width="0.7" stroke-linecap="round" stroke-linejoin="round"/>
<path d="M392.9,127.3 Q391.8,130.2 392.4,129.9 Q393.0,129.6 393.8,130.5 Q394.7,131.3 395.3,131.8 Q396.0,132.3 396.4,133.0 Q396.9,133.6 397.1,134.8 Q397.2,135.9 397.8,136.4 Q398.4,136.8 398.9,136.5 Q399.4,136.1 400.1,137.1 Q400.8,138.2 400.9,138.6 L401.0,139.0" fill="none" stroke="#d49ccd" stroke-width="0.7" stroke-linecap="round" stroke-linejoin="round"/>
<path d="M386.8,130.9 Q387.8,130.2 388.0,131.0 Q388.2,131.8 388.6,132.1 Q389.1,132.3 389.2,133.1 Q389.4,133.9 388.9,134.6 Q388.4,135.2 387.7,135.5 Q387.0,135.8 387.0,136.9 L387.0,138.0" fill="none" stroke="#d49ccd" stroke-width="0.6" stroke-linecap="round" stroke-linejoin="round"/>
<path d="M404.4,100.7 Q404.7,100.0 405.4,99.2 Q406.1,98.3 406.6,97.9 Q407.2,97.5 407.9,98.0 Q408.6,98.4 409.9,99.0 Q411.1,99.5 411.5,100.1 Q411.9,100.7 412.1,100.6 Q412.3,100.6 411.5,102.1 Q410.7,103.6 410.4,103.8 L410.0,104.0" fill="none" stroke="#d9b3dd" stroke-width="0.7" stroke-linecap="round" stroke-linejoin="round"/>
<line x1="385.0" y1="107.0" x2="399.0" y2="99.5" stroke="#e4b4de" stroke-width="4.1" stroke-linecap="round" opacity="1"/>
<ellipse cx="385.0" cy="107.0" rx="1.25" ry="2.30" transform="rotate(-28.2 385.0 107.0)" fill="#e4b4de" stroke="#a8489c" stroke-width="0.8" opacity="1"/>
<ellipse cx="387.3" cy="105.8" rx="1.25" ry="2.30" transform="rotate(-28.2 387.3 105.8)" fill="#e4b4de" stroke="#a8489c" stroke-width="0.8" opacity="1"/>
<ellipse cx="389.7" cy="104.5" rx="1.25" ry="2.30" transform="rotate(-28.2 389.7 104.5)" fill="#e4b4de" stroke="#a8489c" stroke-width="0.8" opacity="1"/>
<ellipse cx="392.0" cy="103.2" rx="1.25" ry="2.30" transform="rotate(-28.2 392.0 103.2)" fill="#e4b4de" stroke="#a8489c" stroke-width="0.8" opacity="1"/>
<ellipse cx="394.3" cy="102.0" rx="1.25" ry="2.30" transform="rotate(-28.2 394.3 102.0)" fill="#e4b4de" stroke="#a8489c" stroke-width="0.8" opacity="1"/>
<ellipse cx="396.7" cy="100.8" rx="1.25" ry="2.30" transform="rotate(-28.2 396.7 100.8)" fill="#e4b4de" stroke="#a8489c" stroke-width="0.8" opacity="1"/>
<ellipse cx="399.0" cy="99.5" rx="1.25" ry="2.30" transform="rotate(-28.2 399.0 99.5)" fill="#e4b4de" stroke="#a8489c" stroke-width="0.8" opacity="1"/>
<line x1="402.5" y1="106.0" x2="400.0" y2="136.5" stroke="#e4b4de" stroke-width="5.2" stroke-linecap="round" opacity="1"/>
<ellipse cx="402.5" cy="106.0" rx="1.25" ry="2.90" transform="rotate(94.7 402.5 106.0)" fill="#e4b4de" stroke="#a8489c" stroke-width="0.8" opacity="1"/>
<ellipse cx="402.3" cy="108.3" rx="1.25" ry="2.90" transform="rotate(94.7 402.3 108.3)" fill="#e4b4de" stroke="#a8489c" stroke-width="0.8" opacity="1"/>
<ellipse cx="402.1" cy="110.7" rx="1.25" ry="2.90" transform="rotate(94.7 402.1 110.7)" fill="#e4b4de" stroke="#a8489c" stroke-width="0.8" opacity="1"/>
<ellipse cx="401.9" cy="113.0" rx="1.25" ry="2.90" transform="rotate(94.7 401.9 113.0)" fill="#e4b4de" stroke="#a8489c" stroke-width="0.8" opacity="1"/>
<ellipse cx="401.7" cy="115.4" rx="1.25" ry="2.90" transform="rotate(94.7 401.7 115.4)" fill="#e4b4de" stroke="#a8489c" stroke-width="0.8" opacity="1"/>
<ellipse cx="401.5" cy="117.7" rx="1.25" ry="2.90" transform="rotate(94.7 401.5 117.7)" fill="#e4b4de" stroke="#a8489c" stroke-width="0.8" opacity="1"/>
<ellipse cx="401.3" cy="120.1" rx="1.25" ry="2.90" transform="rotate(94.7 401.3 120.1)" fill="#e4b4de" stroke="#a8489c" stroke-width="0.8" opacity="1"/>
<ellipse cx="401.2" cy="122.4" rx="1.25" ry="2.90" transform="rotate(94.7 401.2 122.4)" fill="#e4b4de" stroke="#a8489c" stroke-width="0.8" opacity="1"/>
<ellipse cx="401.0" cy="124.8" rx="1.25" ry="2.90" transform="rotate(94.7 401.0 124.8)" fill="#e4b4de" stroke="#a8489c" stroke-width="0.8" opacity="1"/>
<ellipse cx="400.8" cy="127.1" rx="1.25" ry="2.90" transform="rotate(94.7 400.8 127.1)" fill="#e4b4de" stroke="#a8489c" stroke-width="0.8" opacity="1"/>
<ellipse cx="400.6" cy="129.5" rx="1.25" ry="2.90" transform="rotate(94.7 400.6 129.5)" fill="#e4b4de" stroke="#a8489c" stroke-width="0.8" opacity="1"/>
<ellipse cx="400.4" cy="131.8" rx="1.25" ry="2.90" transform="rotate(94.7 400.4 131.8)" fill="#e4b4de" stroke="#a8489c" stroke-width="0.8" opacity="1"/>
<ellipse cx="400.2" cy="134.2" rx="1.25" ry="2.90" transform="rotate(94.7 400.2 134.2)" fill="#e4b4de" stroke="#a8489c" stroke-width="0.8" opacity="1"/>
<ellipse cx="400.0" cy="136.5" rx="1.25" ry="2.90" transform="rotate(94.7 400.0 136.5)" fill="#e4b4de" stroke="#a8489c" stroke-width="0.8" opacity="1"/>
<line x1="407.5" y1="124.0" x2="408.0" y2="139.0" stroke="#e4b4de" stroke-width="4.3" stroke-linecap="round" opacity="1"/>
<ellipse cx="407.5" cy="124.0" rx="1.25" ry="2.40" transform="rotate(88.1 407.5 124.0)" fill="#e4b4de" stroke="#a8489c" stroke-width="0.8" opacity="1"/>
<ellipse cx="407.6" cy="126.5" rx="1.25" ry="2.40" transform="rotate(88.1 407.6 126.5)" fill="#e4b4de" stroke="#a8489c" stroke-width="0.8" opacity="1"/>
<ellipse cx="407.7" cy="129.0" rx="1.25" ry="2.40" transform="rotate(88.1 407.7 129.0)" fill="#e4b4de" stroke="#a8489c" stroke-width="0.8" opacity="1"/>
<ellipse cx="407.8" cy="131.5" rx="1.25" ry="2.40" transform="rotate(88.1 407.8 131.5)" fill="#e4b4de" stroke="#a8489c" stroke-width="0.8" opacity="1"/>
<ellipse cx="407.8" cy="134.0" rx="1.25" ry="2.40" transform="rotate(88.1 407.8 134.0)" fill="#e4b4de" stroke="#a8489c" stroke-width="0.8" opacity="1"/>
<ellipse cx="407.9" cy="136.5" rx="1.25" ry="2.40" transform="rotate(88.1 407.9 136.5)" fill="#e4b4de" stroke="#a8489c" stroke-width="0.8" opacity="1"/>
<ellipse cx="408.0" cy="139.0" rx="1.25" ry="2.40" transform="rotate(88.1 408.0 139.0)" fill="#e4b4de" stroke="#a8489c" stroke-width="0.8" opacity="1"/>
<line x1="412.0" y1="104.0" x2="416.0" y2="121.0" stroke="#e6d6ee" stroke-width="4.0" stroke-linecap="round" opacity="1"/>
<ellipse cx="412.0" cy="104.0" rx="1.25" ry="2.20" transform="rotate(76.8 412.0 104.0)" fill="#e6d6ee" stroke="#a98bc4" stroke-width="0.8" opacity="1"/>
<ellipse cx="412.6" cy="106.4" rx="1.25" ry="2.20" transform="rotate(76.8 412.6 106.4)" fill="#e6d6ee" stroke="#a98bc4" stroke-width="0.8" opacity="1"/>
<ellipse cx="413.1" cy="108.9" rx="1.25" ry="2.20" transform="rotate(76.8 413.1 108.9)" fill="#e6d6ee" stroke="#a98bc4" stroke-width="0.8" opacity="1"/>
<ellipse cx="413.7" cy="111.3" rx="1.25" ry="2.20" transform="rotate(76.8 413.7 111.3)" fill="#e6d6ee" stroke="#a98bc4" stroke-width="0.8" opacity="1"/>
<ellipse cx="414.3" cy="113.7" rx="1.25" ry="2.20" transform="rotate(76.8 414.3 113.7)" fill="#e6d6ee" stroke="#a98bc4" stroke-width="0.8" opacity="1"/>
<ellipse cx="414.9" cy="116.1" rx="1.25" ry="2.20" transform="rotate(76.8 414.9 116.1)" fill="#e6d6ee" stroke="#a98bc4" stroke-width="0.8" opacity="1"/>
<ellipse cx="415.4" cy="118.6" rx="1.25" ry="2.20" transform="rotate(76.8 415.4 118.6)" fill="#e6d6ee" stroke="#a98bc4" stroke-width="0.8" opacity="1"/>
<ellipse cx="416.0" cy="121.0" rx="1.25" ry="2.20" transform="rotate(76.8 416.0 121.0)" fill="#e6d6ee" stroke="#a98bc4" stroke-width="0.8" opacity="1"/>
<circle cx="392.8" cy="119" r="2.9" fill="none" stroke="#8a3a85" stroke-width="1.2"/>
<line x1="418.0" y1="129.5" x2="420.0" y2="140.0" stroke="#e4b4de" stroke-width="4.5" stroke-linecap="round" opacity="1"/>
<ellipse cx="418.0" cy="129.5" rx="1.25" ry="2.50" transform="rotate(79.2 418.0 129.5)" fill="#e4b4de" stroke="#a0408f" stroke-width="0.8" opacity="1"/>
<ellipse cx="418.5" cy="132.1" rx="1.25" ry="2.50" transform="rotate(79.2 418.5 132.1)" fill="#e4b4de" stroke="#a0408f" stroke-width="0.8" opacity="1"/>
<ellipse cx="419.0" cy="134.8" rx="1.25" ry="2.50" transform="rotate(79.2 419.0 134.8)" fill="#e4b4de" stroke="#a0408f" stroke-width="0.8" opacity="1"/>
<ellipse cx="419.5" cy="137.4" rx="1.25" ry="2.50" transform="rotate(79.2 419.5 137.4)" fill="#e4b4de" stroke="#a0408f" stroke-width="0.8" opacity="1"/>
<ellipse cx="420.0" cy="140.0" rx="1.25" ry="2.50" transform="rotate(79.2 420.0 140.0)" fill="#e4b4de" stroke="#a0408f" stroke-width="0.8" opacity="1"/>
<path d="M406.0,104.6 Q407.9,104.6 408.2,105.5 Q408.5,106.4 408.9,106.3 Q409.3,106.2 409.2,107.0 Q409.1,107.8 409.4,108.5 Q409.8,109.2 409.2,110.1 Q408.7,111.0 408.7,112.4 Q408.7,113.9 408.9,114.4 Q409.1,115.0 409.5,115.3 Q409.8,115.6 410.9,115.8 L412.0,116.0" fill="none" stroke="#c0a0d0" stroke-width="0.8" stroke-linecap="round" stroke-linejoin="round"/>
<path d="M409.5,113 L414,114 L413,116.5 L409.5,116 Z" fill="#4a2a50"/>
<path d="M419,108 C428,102.5 439,106 441.5,115 C443,123 438.5,131 433,135 L425.5,130.5 C429,125 430.5,118 426,113 Z" fill="#ebc4e6" stroke="#c06ab5" stroke-width="0.7"/>
<path d="M420.5,108.0 C431.0,104.5 441.0,113.0 434.0,131.0" fill="none" stroke="#ad4aa1" stroke-width="1.05" stroke-linecap="round"/>
<path d="M421.6,111.6 C431.0,108.1 438.1,115.5 430.4,131.7" fill="none" stroke="#ad4aa1" stroke-width="1.05" stroke-linecap="round"/>
<path d="M422.7,115.2 C431.0,111.7 435.2,118.0 426.8,132.4" fill="none" stroke="#ad4aa1" stroke-width="1.05" stroke-linecap="round"/>
<path d="M425,127.5 L433.5,132 L428,135.5 Z" fill="#8a3783"/>
<path d="M392.2,96.3 Q393.7,94.3 393.5,94.1 Q393.3,94.0 394.0,93.0 Q394.7,92.0 395.6,91.3 Q396.5,90.5 397.2,91.0 Q397.9,91.5 397.9,92.1 Q397.8,92.7 398.8,92.2 Q399.9,91.8 400.7,92.6 Q401.5,93.4 402.1,92.9 Q402.7,92.4 403.6,91.5 Q404.5,90.6 405.1,90.6 Q405.8,90.7 405.7,91.1 Q405.6,91.6 406.2,92.0 Q406.7,92.5 407.5,92.8 Q408.3,93.2 408.7,93.6 L409.0,94.0" fill="none" stroke="#d6a6d0" stroke-width="0.7" stroke-linecap="round" stroke-linejoin="round"/>
<path d="M417.3,112.5 Q417.8,113.0 418.1,113.9 Q418.3,114.8 418.6,114.6 Q418.9,114.4 419.3,115.0 Q419.6,115.6 419.3,116.3 Q419.1,117.0 418.5,117.7 Q418.0,118.4 417.9,119.2 Q417.7,120.1 418.1,120.1 Q418.5,120.1 419.0,120.8 Q419.5,121.6 420.2,122.1 Q420.8,122.6 421.7,122.7 Q422.5,122.9 421.4,123.6 Q420.4,124.4 420.4,124.6 Q420.4,124.8 419.7,125.4 L419.0,126.0" fill="none" stroke="#9cc34a" stroke-width="0.7" stroke-linecap="round" stroke-linejoin="round"/>
<path d="M421.6,111.3 Q422.0,112.9 422.0,113.4 Q422.0,113.9 422.8,114.7 Q423.6,115.5 423.0,115.7 Q422.4,115.9 422.0,117.1 Q421.5,118.4 421.3,118.7 L421.0,119.0" fill="none" stroke="#b5d36a" stroke-width="0.6" stroke-linecap="round" stroke-linejoin="round"/>
<line x1="436" y1="107.8" x2="428" y2="112.8" stroke="#555" stroke-width="0.5"/>
<text x="436.5" y="106.6" font-size="5.6" fill="#222">zanubrutinib</text>
<text x="488" y="152.5" font-size="5.6" fill="#222">SH2</text>
<text x="489.5" y="209.2" font-size="5.6" fill="#222">SH3</text>
<rect x="1.5" y="1.5" width="517" height="240" fill="none" stroke="#d4d4d4" stroke-width="1"/>
<rect x="0.5" y="0.5" width="519" height="242" fill="none" stroke="#575757" stroke-width="1"/>
</svg></body></html>
